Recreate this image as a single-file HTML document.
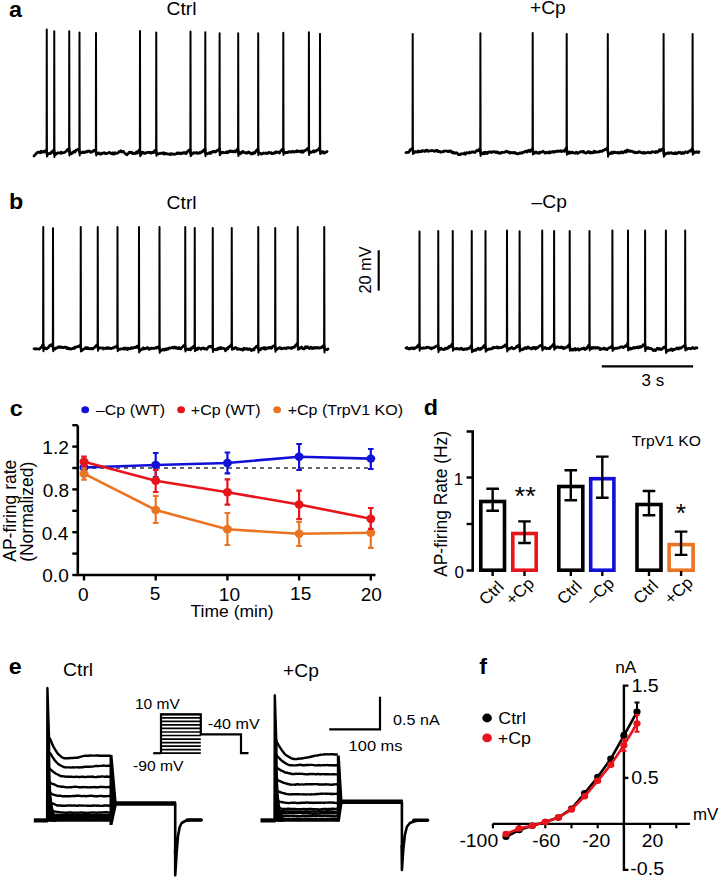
<!DOCTYPE html>
<html><head><meta charset="utf-8"><style>
html,body{margin:0;padding:0;background:#fff;}
svg{display:block;font-family:"Liberation Sans", sans-serif;}
</style></head><body>
<svg width="720" height="877" viewBox="0 0 720 877">
<rect width="720" height="877" fill="#fff"/>
<text transform="translate(15.95,11.07) scale(1.06,1) translate(-6.49,5.83)" font-size="22" font-weight="bold" fill="#000">a</text>
<text transform="translate(181.39,8.62) scale(1.06,1) translate(-14.01,6.46)" font-size="18.2" fill="#000">Ctrl</text>
<text transform="translate(547.94,9.94) scale(1.06,1) translate(-17.02,4.46)" font-size="18.2" fill="#000">+Cp</text>
<polyline points="34.0,156.0 34.5,155.5 35.0,154.7 35.5,154.4 36.0,154.0 36.5,153.2 37.0,152.9 37.5,152.2 38.0,152.4 38.5,152.2 39.0,152.1 39.5,152.1 40.0,152.8 40.5,151.9 41.0,151.1 41.5,152.4 42.0,151.9 42.5,152.1 43.0,151.9 43.5,151.3 44.0,152.1 44.5,151.6 45.0,151.2 45.5,150.8 46.0,150.4 46.5,150.7 47.0,153.9 47.5,155.0 48.0,154.0 48.5,153.9 49.0,153.6 49.5,153.4 50.0,153.2 50.5,153.5 51.0,153.1 51.5,152.0 52.0,152.5 52.5,151.4 53.0,151.2 53.5,150.1 54.0,150.1 54.5,153.9 55.0,154.6 55.5,154.5 56.0,154.2 56.5,153.5 57.0,153.7 57.5,152.8 58.0,153.1 58.5,152.9 59.0,152.8 59.5,152.9 60.0,152.9 60.5,153.3 61.0,152.3 61.5,152.1 62.0,153.1 62.5,152.9 63.0,153.0 63.5,152.6 64.0,152.6 64.5,152.3 65.0,152.2 65.5,151.6 66.0,151.3 66.5,151.2 67.0,149.9 67.5,149.8 68.0,149.3 68.5,149.0 69.0,148.4 69.5,151.7 70.0,153.0 70.5,153.7 71.0,153.8 71.5,153.8 72.0,152.7 72.5,153.1 73.0,152.5 73.5,151.7 74.0,151.9 74.5,151.2 75.0,152.1 75.5,151.3 76.0,150.2 76.5,150.2 77.0,149.7 77.5,149.6 78.0,149.4 78.5,149.5 79.0,149.1 79.5,152.1 80.0,153.1 80.5,153.2 81.0,152.5 81.5,152.7 82.0,152.7 82.5,152.3 83.0,151.9 83.5,151.8 84.0,152.6 84.5,152.7 85.0,152.4 85.5,152.0 86.0,151.6 86.5,151.8 87.0,151.3 87.5,151.9 88.0,151.4 88.5,151.1 89.0,150.9 89.5,151.2 90.0,151.5 90.5,152.4 91.0,152.1 91.5,151.8 92.0,152.1 92.5,151.2 93.0,151.2 93.5,150.5 94.0,150.3 94.5,150.4 95.0,150.4 95.5,149.9 96.0,153.1 96.5,153.0 97.0,154.1 97.5,153.3 98.0,153.1 98.5,153.5 99.0,152.9 99.5,153.3 100.0,154.2 100.5,154.0 101.0,154.1 101.5,154.0 102.0,153.0 102.5,153.1 103.0,152.9 103.5,153.2 104.0,152.9 104.5,152.6 105.0,153.6 105.5,153.4 106.0,153.5 106.5,153.6 107.0,153.5 107.5,153.0 108.0,153.1 108.5,152.5 109.0,152.5 109.5,152.4 110.0,152.8 110.5,153.2 111.0,153.2 111.5,153.9 112.0,153.4 112.5,152.9 113.0,152.8 113.5,154.2 114.0,154.2 114.5,153.5 115.0,152.7 115.5,153.5 116.0,153.5 116.5,153.3 117.0,153.3 117.5,152.8 118.0,153.0 118.5,152.5 119.0,151.7 119.5,151.7 120.0,151.1 120.5,151.3 121.0,150.7 121.5,152.1 122.0,151.6 122.5,151.7 123.0,151.3 123.5,151.4 124.0,152.3 124.5,152.9 125.0,153.5 125.5,153.7 126.0,154.2 126.5,154.1 127.0,154.9 127.5,153.9 128.0,154.0 128.5,153.4 129.0,152.4 129.5,152.0 130.0,152.0 130.5,152.6 131.0,152.7 131.5,152.3 132.0,153.3 132.5,152.8 133.0,153.0 133.5,153.6 134.0,153.4 134.5,153.2 135.0,153.4 135.5,153.6 136.0,153.0 136.5,151.9 137.0,152.8 137.5,153.0 138.0,151.4 138.5,151.7 139.0,150.1 139.5,150.3 140.0,152.6 140.5,153.7 141.0,154.6 141.5,152.9 142.0,152.2 142.5,152.8 143.0,152.2 143.5,153.0 144.0,152.8 144.5,153.5 145.0,153.0 145.5,152.7 146.0,153.1 146.5,152.9 147.0,152.6 147.5,152.4 148.0,152.3 148.5,152.3 149.0,152.3 149.5,152.5 150.0,152.9 150.5,152.3 151.0,153.1 151.5,153.0 152.0,152.8 152.5,152.2 153.0,152.6 153.5,152.7 154.0,152.4 154.5,151.0 155.0,150.3 155.5,150.6 156.0,150.2 156.5,153.5 157.0,153.3 157.5,154.0 158.0,154.2 158.5,153.9 159.0,153.8 159.5,153.6 160.0,153.1 160.5,153.1 161.0,153.6 161.5,153.0 162.0,153.0 162.5,153.5 163.0,152.9 163.5,152.7 164.0,153.0 164.5,154.1 165.0,153.5 165.5,153.5 166.0,153.3 166.5,153.9 167.0,153.7 167.5,153.8 168.0,154.1 168.5,154.0 169.0,154.0 169.5,154.3 170.0,153.8 170.5,154.6 171.0,153.9 171.5,153.9 172.0,153.7 172.5,154.2 173.0,153.9 173.5,154.4 174.0,154.4 174.5,154.0 175.0,154.1 175.5,154.1 176.0,153.7 176.5,153.6 177.0,152.8 177.5,153.5 178.0,153.7 178.5,152.9 179.0,153.1 179.5,152.8 180.0,153.1 180.5,153.9 181.0,153.1 181.5,153.3 182.0,153.6 182.5,152.8 183.0,153.0 183.5,152.7 184.0,153.0 184.5,152.4 185.0,153.0 185.5,153.3 186.0,153.6 186.5,153.3 187.0,152.2 187.5,151.3 188.0,151.4 188.5,150.5 189.0,151.0 189.5,150.8 190.0,149.5 190.5,153.7 191.0,153.7 191.5,154.6 192.0,153.7 192.5,153.5 193.0,153.5 193.5,152.7 194.0,153.3 194.5,152.7 195.0,152.9 195.5,152.8 196.0,152.8 196.5,152.5 197.0,153.3 197.5,153.3 198.0,153.0 198.5,153.3 199.0,153.2 199.5,152.4 200.0,152.6 200.5,153.0 201.0,152.6 201.5,151.7 202.0,152.0 202.5,151.6 203.0,151.2 203.5,150.3 204.0,149.7 204.5,149.4 205.0,149.1 205.5,153.5 206.0,153.8 206.5,154.0 207.0,153.9 207.5,153.7 208.0,153.3 208.5,153.4 209.0,152.9 209.5,152.6 210.0,153.5 210.5,152.3 211.0,153.2 211.5,152.5 212.0,152.3 212.5,151.4 213.0,151.4 213.5,151.7 214.0,151.9 214.5,151.1 215.0,152.0 215.5,151.5 216.0,151.7 216.5,151.0 217.0,150.6 217.5,150.2 218.0,150.1 218.5,149.6 219.0,149.3 219.5,148.4 220.0,152.8 220.5,153.8 221.0,152.8 221.5,152.7 222.0,152.5 222.5,152.1 223.0,152.6 223.5,152.3 224.0,152.9 224.5,152.8 225.0,152.7 225.5,152.6 226.0,152.0 226.5,151.9 227.0,152.8 227.5,152.5 228.0,152.4 228.5,151.5 229.0,152.2 229.5,151.9 230.0,151.5 230.5,150.6 231.0,151.4 231.5,151.6 232.0,151.6 232.5,151.8 233.0,151.1 233.5,151.5 234.0,151.9 234.5,151.8 235.0,151.0 235.5,151.9 236.0,150.7 236.5,150.7 237.0,150.1 237.5,148.9 238.0,149.5 238.5,153.5 239.0,153.9 239.5,153.9 240.0,154.0 240.5,152.6 241.0,152.4 241.5,152.8 242.0,152.9 242.5,151.5 243.0,152.1 243.5,151.6 244.0,152.3 244.5,152.5 245.0,152.7 245.5,152.5 246.0,153.1 246.5,152.9 247.0,153.1 247.5,152.5 248.0,152.8 248.5,151.9 249.0,152.3 249.5,152.5 250.0,153.1 250.5,152.8 251.0,153.4 251.5,154.1 252.0,153.9 252.5,153.1 253.0,152.6 253.5,153.7 254.0,152.7 254.5,152.7 255.0,152.9 255.5,151.5 256.0,151.2 256.5,150.4 257.0,149.5 257.5,149.6 258.0,149.4 258.5,152.7 259.0,153.2 259.5,153.2 260.0,153.0 260.5,153.4 261.0,154.0 261.5,154.2 262.0,153.7 262.5,153.7 263.0,153.3 263.5,152.9 264.0,153.5 264.5,153.4 265.0,153.2 265.5,153.2 266.0,152.8 266.5,153.2 267.0,153.6 267.5,153.2 268.0,152.9 268.5,152.5 269.0,152.8 269.5,152.5 270.0,152.9 270.5,152.7 271.0,152.6 271.5,153.5 272.0,153.2 272.5,153.6 273.0,153.6 273.5,152.8 274.0,153.3 274.5,153.2 275.0,152.4 275.5,151.9 276.0,152.9 276.5,152.0 277.0,151.8 277.5,152.1 278.0,152.3 278.5,152.4 279.0,152.8 279.5,153.1 280.0,151.6 280.5,151.4 281.0,150.6 281.5,150.1 282.0,149.5 282.5,150.0 283.0,148.9 283.5,152.2 284.0,152.5 284.5,152.7 285.0,152.9 285.5,152.5 286.0,152.3 286.5,152.8 287.0,152.1 287.5,152.5 288.0,152.6 288.5,152.0 289.0,151.7 289.5,151.9 290.0,152.0 290.5,151.7 291.0,152.2 291.5,152.1 292.0,152.1 292.5,151.1 293.0,151.8 293.5,151.7 294.0,152.1 294.5,151.7 295.0,151.8 295.5,151.4 296.0,151.8 296.5,151.0 297.0,150.7 297.5,151.7 298.0,151.4 298.5,151.1 299.0,151.1 299.5,151.6 300.0,151.2 300.5,151.8 301.0,151.1 301.5,152.0 302.0,150.9 302.5,150.9 303.0,152.3 303.5,151.7 304.0,151.4 304.5,150.6 305.0,150.7 305.5,150.3 306.0,150.0 306.5,149.3 307.0,149.3 307.5,148.5 308.0,148.3 308.5,149.0 309.0,151.8 309.5,152.6 310.0,152.6 310.5,152.0 311.0,152.4 311.5,152.5 312.0,151.9 312.5,151.6 313.0,151.0 313.5,150.8 314.0,152.0 314.5,151.0 315.0,151.4 315.5,151.5 316.0,150.6 316.5,150.8 317.0,150.0 317.5,150.0 318.0,149.6 318.5,149.5 319.0,148.5 319.5,147.9 320.0,151.0 320.5,151.6 321.0,153.1 321.5,152.1 322.0,151.6 322.5,152.2 323.0,151.6 323.5,152.0 324.0,153.1 324.5,152.8 325.0,152.8 325.5,152.2 326.0,152.0 326.5,152.0 327.0,151.5" fill="none" stroke="#000" stroke-width="2.7" stroke-linejoin="round" stroke-linecap="round"/>
<path d="M46.60,150.39 L46.75,29.5 L46.95,156.40 M54.10,150.11 L54.25,31.2 L54.45,157.07 M69.10,148.42 L69.25,31.2 L69.45,155.54 M79.35,149.05 L79.50,32.5 L79.70,155.57 M95.85,149.86 L96.00,33 L96.20,155.45 M139.85,150.26 L140.00,31 L140.20,156.25 M156.10,150.21 L156.25,32.5 L156.45,155.84 M190.35,149.55 L190.50,31.5 L190.70,156.19 M205.15,149.08 L205.30,32.2 L205.50,156.30 M219.45,149.33 L219.60,33.3 L219.80,155.34 M238.05,148.91 L238.20,33.3 L238.40,155.95 M258.05,149.59 L258.20,33.3 L258.40,155.17 M283.15,148.93 L283.30,32.7 L283.50,154.99 M308.75,149.02 L308.90,32.2 L309.10,155.08 M319.85,147.87 L320.00,33.8 L320.20,154.08" fill="none" stroke="#000" stroke-width="2.0" stroke-linejoin="round" stroke-linecap="round"/>
<polyline points="406.0,152.7 406.5,152.3 407.0,152.3 407.5,152.4 408.0,152.3 408.5,152.4 409.0,151.7 409.5,151.3 410.0,149.9 410.5,149.8 411.0,149.4 411.5,149.2 412.0,148.7 412.5,148.2 413.0,151.6 413.5,151.9 414.0,152.9 414.5,152.6 415.0,151.6 415.5,151.5 416.0,151.9 416.5,152.0 417.0,152.1 417.5,151.6 418.0,151.0 418.5,152.1 419.0,151.2 419.5,151.1 420.0,151.6 420.5,151.5 421.0,151.2 421.5,151.6 422.0,150.6 422.5,150.7 423.0,150.6 423.5,151.0 424.0,151.2 424.5,150.9 425.0,151.5 425.5,150.3 426.0,151.0 426.5,150.6 427.0,150.0 427.5,151.0 428.0,150.8 428.5,151.4 429.0,151.1 429.5,150.8 430.0,150.9 430.5,150.8 431.0,150.5 431.5,150.8 432.0,150.6 432.5,150.6 433.0,150.6 433.5,150.7 434.0,151.2 434.5,151.4 435.0,151.1 435.5,150.7 436.0,150.5 436.5,150.2 437.0,150.4 437.5,151.5 438.0,150.9 438.5,151.0 439.0,151.6 439.5,151.5 440.0,151.4 440.5,152.2 441.0,152.1 441.5,152.1 442.0,151.9 442.5,151.6 443.0,151.7 443.5,151.2 444.0,151.0 444.5,151.3 445.0,151.0 445.5,151.0 446.0,151.0 446.5,150.9 447.0,151.3 447.5,151.3 448.0,151.6 448.5,151.2 449.0,151.5 449.5,150.8 450.0,151.0 450.5,151.0 451.0,151.1 451.5,152.3 452.0,151.7 452.5,152.7 453.0,152.9 453.5,153.1 454.0,152.4 454.5,153.3 455.0,153.1 455.5,153.1 456.0,152.7 456.5,152.9 457.0,152.8 457.5,153.5 458.0,154.2 458.5,154.6 459.0,154.6 459.5,154.6 460.0,154.6 460.5,153.9 461.0,154.2 461.5,154.0 462.0,153.6 462.5,153.7 463.0,153.8 463.5,153.7 464.0,153.9 464.5,153.0 465.0,153.5 465.5,154.2 466.0,153.4 466.5,152.6 467.0,152.7 467.5,152.8 468.0,152.9 468.5,153.0 469.0,153.1 469.5,152.1 470.0,152.9 470.5,152.6 471.0,152.4 471.5,152.2 472.0,151.7 472.5,152.2 473.0,152.1 473.5,151.7 474.0,152.2 474.5,152.5 475.0,152.5 475.5,151.7 476.0,151.5 476.5,150.8 477.0,150.3 477.5,150.9 478.0,150.8 478.5,150.6 479.0,149.9 479.5,149.0 480.0,149.3 480.5,152.2 481.0,153.6 481.5,152.9 482.0,153.6 482.5,153.2 483.0,153.7 483.5,153.9 484.0,152.3 484.5,152.8 485.0,153.6 485.5,152.2 486.0,153.2 486.5,152.6 487.0,152.4 487.5,153.5 488.0,152.5 488.5,152.2 489.0,152.1 489.5,151.6 490.0,152.1 490.5,152.3 491.0,152.0 491.5,152.5 492.0,151.9 492.5,152.1 493.0,151.9 493.5,151.4 494.0,151.9 494.5,151.8 495.0,152.3 495.5,152.4 496.0,151.8 496.5,152.4 497.0,152.0 497.5,152.8 498.0,152.3 498.5,152.9 499.0,153.2 499.5,153.3 500.0,152.7 500.5,152.9 501.0,153.2 501.5,152.8 502.0,152.1 502.5,152.5 503.0,152.4 503.5,152.5 504.0,152.5 504.5,152.3 505.0,151.8 505.5,151.9 506.0,151.5 506.5,151.1 507.0,151.7 507.5,151.7 508.0,152.2 508.5,151.9 509.0,152.5 509.5,152.1 510.0,153.2 510.5,152.6 511.0,152.9 511.5,152.4 512.0,152.4 512.5,152.9 513.0,152.5 513.5,152.6 514.0,153.0 514.5,152.4 515.0,152.8 515.5,153.1 516.0,152.9 516.5,153.7 517.0,153.8 517.5,153.9 518.0,153.5 518.5,153.9 519.0,153.4 519.5,153.3 520.0,152.9 520.5,152.8 521.0,153.3 521.5,153.2 522.0,153.1 522.5,152.1 523.0,152.4 523.5,152.3 524.0,152.4 524.5,152.0 525.0,151.3 525.5,151.2 526.0,151.1 526.5,151.3 527.0,152.1 527.5,151.7 528.0,150.8 528.5,150.3 529.0,150.9 529.5,150.7 530.0,151.5 530.5,150.1 531.0,150.5 531.5,149.5 532.0,149.4 532.5,148.6 533.0,152.1 533.5,152.3 534.0,153.6 534.5,153.1 535.0,152.6 535.5,152.0 536.0,151.9 536.5,152.7 537.0,152.4 537.5,153.1 538.0,153.0 538.5,152.6 539.0,153.3 539.5,152.1 540.0,152.9 540.5,152.8 541.0,152.3 541.5,152.2 542.0,151.9 542.5,151.8 543.0,151.3 543.5,151.9 544.0,151.8 544.5,152.6 545.0,153.2 545.5,152.4 546.0,152.6 546.5,152.1 547.0,152.9 547.5,152.7 548.0,152.5 548.5,152.9 549.0,152.2 549.5,151.7 550.0,152.9 550.5,152.7 551.0,151.8 551.5,152.1 552.0,151.8 552.5,152.2 553.0,151.8 553.5,151.3 554.0,151.7 554.5,152.3 555.0,151.6 555.5,151.4 556.0,151.4 556.5,151.3 557.0,151.6 557.5,150.8 558.0,151.4 558.5,151.0 559.0,151.2 559.5,151.3 560.0,151.0 560.5,150.7 561.0,150.9 561.5,151.6 562.0,150.9 562.5,151.0 563.0,151.2 563.5,150.8 564.0,151.3 564.5,151.4 565.0,149.8 565.5,149.6 566.0,148.4 566.5,147.7 567.0,152.2 567.5,152.9 568.0,153.0 568.5,152.3 569.0,153.4 569.5,152.0 570.0,152.6 570.5,152.8 571.0,153.0 571.5,152.2 572.0,152.5 572.5,152.1 573.0,152.9 573.5,152.9 574.0,152.9 574.5,153.2 575.0,153.3 575.5,152.8 576.0,152.2 576.5,152.1 577.0,152.4 577.5,153.5 578.0,152.8 578.5,152.9 579.0,152.4 579.5,152.2 580.0,152.3 580.5,151.6 581.0,151.5 581.5,151.6 582.0,151.9 582.5,152.2 583.0,151.4 583.5,151.3 584.0,151.9 584.5,152.6 585.0,152.8 585.5,153.1 586.0,153.0 586.5,153.1 587.0,152.6 587.5,151.9 588.0,152.2 588.5,151.5 589.0,152.4 589.5,153.0 590.0,152.1 590.5,152.0 591.0,152.9 591.5,152.4 592.0,152.8 592.5,152.8 593.0,152.3 593.5,152.5 594.0,151.1 594.5,151.2 595.0,152.0 595.5,152.4 596.0,151.9 596.5,151.8 597.0,152.1 597.5,152.2 598.0,151.8 598.5,152.0 599.0,151.4 599.5,151.9 600.0,151.3 600.5,151.1 601.0,151.5 601.5,151.5 602.0,151.4 602.5,150.7 603.0,150.3 603.5,150.4 604.0,150.2 604.5,149.7 605.0,149.3 605.5,149.6 606.0,149.5 606.5,148.6 607.0,148.1 607.5,148.6 608.0,152.3 608.5,154.2 609.0,154.3 609.5,153.8 610.0,153.4 610.5,153.7 611.0,153.3 611.5,152.2 612.0,152.5 612.5,153.3 613.0,152.9 613.5,152.3 614.0,151.9 614.5,152.7 615.0,152.3 615.5,152.4 616.0,152.8 616.5,152.6 617.0,152.6 617.5,152.7 618.0,152.4 618.5,153.2 619.0,152.5 619.5,152.9 620.0,153.1 620.5,152.7 621.0,151.8 621.5,151.9 622.0,151.9 622.5,152.8 623.0,152.9 623.5,152.6 624.0,152.1 624.5,151.8 625.0,151.0 625.5,150.8 626.0,152.2 626.5,151.4 627.0,151.6 627.5,150.0 628.0,150.4 628.5,151.1 629.0,151.1 629.5,151.4 630.0,150.8 630.5,151.3 631.0,151.4 631.5,151.5 632.0,151.1 632.5,151.4 633.0,151.9 633.5,152.0 634.0,152.6 634.5,152.6 635.0,152.0 635.5,152.9 636.0,152.8 636.5,152.5 637.0,152.7 637.5,152.6 638.0,151.9 638.5,152.4 639.0,152.3 639.5,151.7 640.0,152.0 640.5,152.3 641.0,152.2 641.5,152.6 642.0,153.1 642.5,152.7 643.0,152.6 643.5,153.0 644.0,152.3 644.5,153.2 645.0,153.3 645.5,152.8 646.0,152.7 646.5,152.9 647.0,152.8 647.5,152.4 648.0,152.2 648.5,152.3 649.0,152.8 649.5,152.9 650.0,153.0 650.5,152.4 651.0,152.8 651.5,151.9 652.0,151.6 652.5,151.7 653.0,151.9 653.5,151.9 654.0,152.0 654.5,152.1 655.0,152.6 655.5,152.5 656.0,151.4 656.5,151.8 657.0,151.7 657.5,152.3 658.0,151.9 658.5,151.4 659.0,150.5 659.5,149.8 660.0,150.9 660.5,150.5 661.0,149.8 661.5,150.3 662.0,149.4 662.5,149.0 663.0,149.8 663.5,150.0 664.0,154.2 664.5,155.0 665.0,154.7 665.5,153.6 666.0,153.9 666.5,153.6 667.0,153.1 667.5,152.8 668.0,153.4 668.5,153.5 669.0,152.8 669.5,153.4 670.0,153.0 670.5,152.9 671.0,153.0 671.5,152.7 672.0,153.3 672.5,153.3 673.0,153.3 673.5,153.7 674.0,153.4 674.5,153.7 675.0,152.7 675.5,152.8 676.0,153.1 676.5,153.8 677.0,153.3 677.5,152.7 678.0,152.9 678.5,152.3 679.0,152.6 679.5,152.8 680.0,152.3 680.5,153.1 681.0,152.8 681.5,153.6 682.0,152.9 682.5,152.4 683.0,152.6 683.5,153.0 684.0,153.3 684.5,152.7 685.0,152.4 685.5,151.6 686.0,152.2 686.5,152.1 687.0,152.4 687.5,152.8 688.0,152.3 688.5,151.4 689.0,151.2 689.5,151.1 690.0,150.7 690.5,151.1 691.0,149.8 691.5,150.0 692.0,149.0 692.5,149.2 693.0,152.3 693.5,153.3 694.0,152.8 694.5,152.0 695.0,152.3 695.5,152.5 696.0,152.3 696.5,151.6 697.0,152.0 697.5,152.3 698.0,152.2 698.5,152.5 699.0,151.8" fill="none" stroke="#000" stroke-width="2.7" stroke-linejoin="round" stroke-linecap="round"/>
<path d="M412.55,148.71 L412.70,34 L412.90,154.11 M480.25,149.25 L480.40,33.3 L480.60,156.05 M532.55,149.45 L532.70,32.9 L532.90,154.55 M566.55,148.35 L566.70,34 L566.90,154.73 M607.65,148.64 L607.80,34 L608.00,156.69 M663.45,149.79 L663.60,34 L663.80,156.74 M692.45,149.00 L692.60,34 L692.80,154.79" fill="none" stroke="#000" stroke-width="2.0" stroke-linejoin="round" stroke-linecap="round"/>
<text transform="translate(16.50,201.44) scale(1.06,1) translate(-7.04,7.81)" font-size="22" font-weight="bold" fill="#000">b</text>
<text transform="translate(181.44,202.16) scale(1.06,1) translate(-14.01,6.46)" font-size="18.2" fill="#000">Ctrl</text>
<text transform="translate(548.84,203.23) scale(1.06,1) translate(-16.29,4.46)" font-size="18.2" fill="#000">–Cp</text>
<polyline points="34.0,348.8 34.5,348.7 35.0,348.5 35.5,349.1 36.0,348.8 36.5,348.7 37.0,349.0 37.5,349.0 38.0,349.0 38.5,349.0 39.0,349.2 39.5,348.5 40.0,348.6 40.5,348.0 41.0,347.4 41.5,347.0 42.0,346.4 42.5,345.3 43.0,344.5 43.5,347.7 44.0,348.8 44.5,348.7 45.0,348.6 45.5,347.9 46.0,348.3 46.5,348.9 47.0,348.5 47.5,348.0 48.0,347.9 48.5,346.8 49.0,346.8 49.5,345.7 50.0,345.2 50.5,345.7 51.0,344.8 51.5,344.8 52.0,344.5 52.5,344.4 53.0,347.1 53.5,348.8 54.0,349.3 54.5,349.2 55.0,349.1 55.5,348.7 56.0,347.8 56.5,348.1 57.0,348.0 57.5,347.9 58.0,347.0 58.5,347.4 59.0,347.2 59.5,346.8 60.0,347.5 60.5,346.9 61.0,346.9 61.5,347.2 62.0,347.6 62.5,347.2 63.0,347.4 63.5,347.7 64.0,347.4 64.5,347.5 65.0,347.0 65.5,347.5 66.0,347.4 66.5,347.5 67.0,348.7 67.5,347.7 68.0,348.1 68.5,348.3 69.0,348.9 69.5,348.7 70.0,348.5 70.5,348.6 71.0,349.2 71.5,348.9 72.0,348.6 72.5,348.6 73.0,348.0 73.5,348.5 74.0,348.6 74.5,348.5 75.0,347.1 75.5,347.0 76.0,347.2 76.5,347.2 77.0,346.6 77.5,346.7 78.0,346.8 78.5,346.6 79.0,345.8 79.5,345.7 80.0,345.8 80.5,345.6 81.0,348.9 81.5,350.3 82.0,350.5 82.5,349.6 83.0,349.6 83.5,349.4 84.0,348.9 84.5,348.7 85.0,348.7 85.5,347.6 86.0,347.9 86.5,348.5 87.0,347.6 87.5,348.5 88.0,347.8 88.5,348.3 89.0,348.9 89.5,348.9 90.0,348.7 90.5,348.7 91.0,348.2 91.5,348.3 92.0,348.8 92.5,349.1 93.0,348.7 93.5,348.2 94.0,347.8 94.5,347.4 95.0,347.2 95.5,346.3 96.0,345.9 96.5,345.2 97.0,345.8 97.5,344.8 98.0,348.3 98.5,347.5 99.0,348.5 99.5,348.1 100.0,347.9 100.5,347.8 101.0,347.8 101.5,348.1 102.0,347.9 102.5,348.2 103.0,347.9 103.5,349.1 104.0,348.5 104.5,348.5 105.0,348.5 105.5,348.0 106.0,347.8 106.5,348.0 107.0,348.6 107.5,347.6 108.0,347.8 108.5,348.4 109.0,347.8 109.5,348.0 110.0,348.5 110.5,348.3 111.0,348.7 111.5,348.5 112.0,348.0 112.5,348.2 113.0,347.5 113.5,347.6 114.0,347.8 114.5,347.4 115.0,347.0 115.5,346.7 116.0,346.7 116.5,346.3 117.0,346.0 117.5,348.1 118.0,348.7 118.5,349.6 119.0,349.4 119.5,349.2 120.0,349.4 120.5,349.0 121.0,348.8 121.5,348.8 122.0,349.0 122.5,348.6 123.0,348.6 123.5,349.1 124.0,348.1 124.5,349.1 125.0,348.0 125.5,347.9 126.0,348.7 126.5,348.8 127.0,349.6 127.5,349.6 128.0,348.1 128.5,348.9 129.0,348.7 129.5,348.7 130.0,348.3 130.5,348.7 131.0,347.9 131.5,347.5 132.0,348.3 132.5,348.1 133.0,348.2 133.5,348.1 134.0,347.6 134.5,347.1 135.0,347.4 135.5,347.6 136.0,347.4 136.5,346.7 137.0,347.4 137.5,346.1 138.0,346.8 138.5,345.7 139.0,348.8 139.5,350.0 140.0,350.6 140.5,350.2 141.0,349.9 141.5,349.6 142.0,349.0 142.5,348.7 143.0,347.8 143.5,349.0 144.0,348.3 144.5,348.8 145.0,348.5 145.5,348.3 146.0,348.6 146.5,348.1 147.0,347.8 147.5,347.4 148.0,348.6 148.5,348.6 149.0,349.4 149.5,349.2 150.0,348.4 150.5,348.6 151.0,348.5 151.5,347.9 152.0,348.1 152.5,348.5 153.0,348.5 153.5,348.5 154.0,348.2 154.5,348.5 155.0,348.2 155.5,347.9 156.0,347.4 156.5,348.1 157.0,347.2 157.5,347.1 158.0,347.3 158.5,346.8 159.0,346.6 159.5,349.2 160.0,350.2 160.5,351.1 161.0,350.3 161.5,350.5 162.0,349.9 162.5,349.5 163.0,349.9 163.5,349.3 164.0,349.8 164.5,350.1 165.0,349.7 165.5,348.8 166.0,348.9 166.5,349.7 167.0,348.6 167.5,349.0 168.0,349.2 168.5,348.7 169.0,348.3 169.5,347.8 170.0,348.1 170.5,348.1 171.0,347.8 171.5,348.0 172.0,347.6 172.5,347.5 173.0,347.2 173.5,348.1 174.0,347.3 174.5,347.1 175.0,347.3 175.5,348.2 176.0,347.2 176.5,347.6 177.0,348.4 177.5,348.3 178.0,348.8 178.5,347.9 179.0,347.4 179.5,348.3 180.0,348.8 180.5,348.9 181.0,348.7 181.5,347.7 182.0,347.2 182.5,347.0 183.0,346.4 183.5,345.7 184.0,346.2 184.5,345.3 185.0,345.9 185.5,349.4 186.0,349.1 186.5,349.6 187.0,349.5 187.5,349.1 188.0,349.3 188.5,348.9 189.0,349.6 189.5,349.3 190.0,348.9 190.5,349.9 191.0,349.2 191.5,347.8 192.0,348.3 192.5,348.1 193.0,346.7 193.5,346.5 194.0,346.1 194.5,345.6 195.0,348.8 195.5,349.0 196.0,349.9 196.5,348.5 197.0,349.0 197.5,349.5 198.0,348.0 198.5,347.8 199.0,348.3 199.5,348.2 200.0,348.4 200.5,348.6 201.0,349.4 201.5,348.5 202.0,348.2 202.5,348.4 203.0,348.2 203.5,347.9 204.0,348.6 204.5,349.1 205.0,348.8 205.5,349.0 206.0,348.9 206.5,348.6 207.0,349.3 207.5,348.1 208.0,347.7 208.5,346.9 209.0,346.6 209.5,346.4 210.0,346.4 210.5,346.2 211.0,347.0 211.5,346.7 212.0,346.7 212.5,346.0 213.0,349.4 213.5,349.3 214.0,349.3 214.5,349.7 215.0,349.7 215.5,349.8 216.0,349.3 216.5,349.8 217.0,349.7 217.5,348.4 218.0,348.2 218.5,349.1 219.0,348.1 219.5,348.4 220.0,348.4 220.5,347.5 221.0,348.7 221.5,348.2 222.0,348.1 222.5,348.1 223.0,348.4 223.5,348.1 224.0,348.8 224.5,348.9 225.0,349.4 225.5,350.9 226.0,349.0 226.5,349.5 227.0,348.4 227.5,347.9 228.0,348.8 228.5,347.1 229.0,346.8 229.5,346.6 230.0,346.5 230.5,345.6 231.0,345.9 231.5,344.5 232.0,347.4 232.5,348.2 233.0,348.9 233.5,348.8 234.0,348.8 234.5,348.0 235.0,347.9 235.5,347.3 236.0,347.6 236.5,348.3 237.0,348.3 237.5,349.4 238.0,349.1 238.5,348.7 239.0,348.8 239.5,349.2 240.0,349.0 240.5,349.4 241.0,349.0 241.5,349.0 242.0,349.2 242.5,350.1 243.0,349.4 243.5,349.8 244.0,348.2 244.5,348.6 245.0,348.7 245.5,349.0 246.0,348.5 246.5,348.4 247.0,348.7 247.5,349.4 248.0,349.7 248.5,349.1 249.0,349.3 249.5,348.7 250.0,349.0 250.5,349.0 251.0,349.9 251.5,350.6 252.0,349.8 252.5,350.0 253.0,349.2 253.5,349.1 254.0,349.8 254.5,348.2 255.0,347.9 255.5,347.4 256.0,347.2 256.5,346.2 257.0,346.4 257.5,346.0 258.0,347.0 258.5,349.2 259.0,350.1 259.5,349.4 260.0,349.3 260.5,349.7 261.0,349.0 261.5,348.1 262.0,348.4 262.5,348.5 263.0,348.1 263.5,347.9 264.0,347.5 264.5,349.1 265.0,348.7 265.5,347.7 266.0,349.1 266.5,348.2 267.0,348.3 267.5,348.0 268.0,348.1 268.5,347.5 269.0,348.2 269.5,347.6 270.0,347.3 270.5,347.5 271.0,348.3 271.5,347.7 272.0,347.8 272.5,346.6 273.0,346.2 273.5,346.0 274.0,345.7 274.5,345.8 275.0,345.7 275.5,348.7 276.0,349.2 276.5,349.6 277.0,349.4 277.5,348.8 278.0,348.6 278.5,348.1 279.0,348.0 279.5,347.6 280.0,347.6 280.5,348.5 281.0,347.9 281.5,348.9 282.0,348.5 282.5,348.7 283.0,348.6 283.5,348.4 284.0,348.1 284.5,347.9 285.0,348.2 285.5,348.3 286.0,348.8 286.5,348.3 287.0,347.6 287.5,348.0 288.0,347.9 288.5,348.0 289.0,347.7 289.5,347.8 290.0,347.7 290.5,348.1 291.0,348.5 291.5,347.8 292.0,348.3 292.5,347.4 293.0,347.5 293.5,347.5 294.0,347.1 294.5,347.2 295.0,345.9 295.5,345.5 296.0,345.1 296.5,344.5 297.0,343.6 297.5,344.1 298.0,347.3 298.5,347.5 299.0,348.6 299.5,348.9 300.0,347.9 300.5,347.7 301.0,347.8 301.5,347.0 302.0,347.4 302.5,348.2 303.0,348.8 303.5,348.9 304.0,348.6 304.5,348.8 305.0,347.5 305.5,346.8 306.0,347.3 306.5,347.6 307.0,347.7 307.5,346.7 308.0,347.8 308.5,347.6 309.0,347.9 309.5,348.6 310.0,347.4 310.5,347.2 311.0,347.2 311.5,347.7 312.0,348.5 312.5,348.1 313.0,348.4 313.5,347.7 314.0,348.2 314.5,348.2 315.0,347.5 315.5,348.2 316.0,347.9 316.5,347.6 317.0,348.0 317.5,347.5 318.0,347.9 318.5,347.7 319.0,348.1 319.5,347.7 320.0,348.1 320.5,347.6 321.0,347.4 321.5,347.7 322.0,346.9 322.5,346.4 323.0,345.8 323.5,345.9 324.0,345.1 324.5,348.4 325.0,349.9 325.5,349.4 326.0,349.4 326.5,349.6 327.0,349.8 327.5,349.3 328.0,349.0" fill="none" stroke="#000" stroke-width="2.7" stroke-linejoin="round" stroke-linecap="round"/>
<path d="M43.10,344.49 L43.25,227 L43.45,351.26 M52.85,344.45 L53.00,228.2 L53.20,351.26 M80.60,345.76 L80.75,227 L80.95,351.45 M97.60,345.78 L97.75,227 L97.95,350.78 M117.35,346.00 L117.50,227 L117.70,351.24 M138.85,345.71 L139.00,227 L139.20,352.52 M159.35,346.64 L159.50,227 L159.70,352.72 M185.10,345.88 L185.25,227 L185.45,351.58 M194.60,346.08 L194.75,228 L194.95,351.30 M212.60,346.71 L212.75,228 L212.95,351.95 M231.60,345.92 L231.75,228 L231.95,349.87 M258.10,346.98 L258.25,227 L258.45,352.55 M275.10,345.72 L275.25,228 L275.45,351.67 M297.60,343.61 L297.75,227 L297.95,349.75 M324.10,345.15 L324.25,227 L324.45,352.45" fill="none" stroke="#000" stroke-width="2.0" stroke-linejoin="round" stroke-linecap="round"/>
<polyline points="406.0,348.1 406.5,348.3 407.0,347.5 407.5,348.0 408.0,348.4 408.5,348.3 409.0,349.2 409.5,348.8 410.0,348.3 410.5,348.6 411.0,347.9 411.5,348.1 412.0,348.4 412.5,347.8 413.0,348.0 413.5,348.9 414.0,348.9 414.5,347.8 415.0,348.3 415.5,347.7 416.0,347.3 416.5,347.4 417.0,347.2 417.5,345.8 418.0,345.9 418.5,345.2 419.0,344.5 419.5,347.0 420.0,348.3 420.5,347.8 421.0,348.0 421.5,348.4 422.0,348.5 422.5,348.1 423.0,348.3 423.5,347.6 424.0,348.1 424.5,348.0 425.0,348.2 425.5,347.7 426.0,347.6 426.5,347.9 427.0,347.1 427.5,347.3 428.0,347.3 428.5,347.5 429.0,347.3 429.5,348.2 430.0,348.3 430.5,348.3 431.0,348.0 431.5,349.0 432.0,348.0 432.5,347.9 433.0,348.0 433.5,348.0 434.0,347.7 434.5,346.9 435.0,347.1 435.5,346.7 436.0,346.3 436.5,346.0 437.0,346.0 437.5,346.2 438.0,345.1 438.5,348.6 439.0,349.8 439.5,350.0 440.0,349.4 440.5,349.1 441.0,348.2 441.5,349.1 442.0,349.0 442.5,349.3 443.0,349.5 443.5,349.5 444.0,349.6 444.5,349.5 445.0,348.3 445.5,348.1 446.0,348.1 446.5,348.8 447.0,348.3 447.5,348.4 448.0,347.5 448.5,348.0 449.0,347.1 449.5,346.1 450.0,346.1 450.5,346.5 451.0,345.9 451.5,345.2 452.0,344.2 452.5,344.4 453.0,348.2 453.5,348.9 454.0,349.1 454.5,348.9 455.0,349.0 455.5,348.9 456.0,348.7 456.5,348.3 457.0,348.9 457.5,348.4 458.0,348.9 458.5,348.8 459.0,348.9 459.5,349.3 460.0,348.8 460.5,348.5 461.0,348.9 461.5,348.2 462.0,348.4 462.5,349.4 463.0,349.8 463.5,349.7 464.0,349.2 464.5,348.9 465.0,349.3 465.5,349.0 466.0,348.9 466.5,348.7 467.0,349.2 467.5,348.5 468.0,348.4 468.5,348.6 469.0,348.4 469.5,348.1 470.0,347.3 470.5,346.9 471.0,345.8 471.5,346.0 472.0,349.7 472.5,350.7 473.0,351.0 473.5,350.4 474.0,350.7 474.5,350.1 475.0,350.4 475.5,349.7 476.0,350.2 476.5,349.3 477.0,349.2 477.5,349.1 478.0,348.1 478.5,348.2 479.0,349.1 479.5,349.2 480.0,349.5 480.5,348.8 481.0,348.2 481.5,348.9 482.0,348.1 482.5,347.8 483.0,347.1 483.5,346.2 484.0,345.7 484.5,345.1 485.0,345.5 485.5,348.0 486.0,349.3 486.5,349.1 487.0,350.2 487.5,349.6 488.0,349.5 488.5,349.1 489.0,348.9 489.5,348.8 490.0,349.1 490.5,349.2 491.0,348.9 491.5,348.9 492.0,348.2 492.5,348.5 493.0,348.1 493.5,347.1 494.0,347.8 494.5,347.8 495.0,347.6 495.5,347.6 496.0,347.4 496.5,347.0 497.0,347.9 497.5,347.0 498.0,348.0 498.5,347.4 499.0,347.8 499.5,347.4 500.0,347.6 500.5,347.6 501.0,347.8 501.5,347.6 502.0,347.2 502.5,346.9 503.0,346.4 503.5,346.9 504.0,346.0 504.5,345.4 505.0,345.2 505.5,344.7 506.0,345.5 506.5,345.5 507.0,348.3 507.5,348.9 508.0,348.9 508.5,349.5 509.0,348.7 509.5,348.4 510.0,348.6 510.5,348.5 511.0,347.9 511.5,347.4 512.0,347.4 512.5,348.2 513.0,348.6 513.5,348.9 514.0,348.6 514.5,348.3 515.0,348.2 515.5,348.0 516.0,347.3 516.5,346.5 517.0,346.9 517.5,346.2 518.0,346.4 518.5,345.2 519.0,345.4 519.5,345.7 520.0,349.0 520.5,349.9 521.0,349.6 521.5,349.9 522.0,349.3 522.5,349.6 523.0,348.9 523.5,349.2 524.0,348.4 524.5,348.0 525.0,348.4 525.5,347.5 526.0,347.6 526.5,348.6 527.0,347.6 527.5,347.9 528.0,346.8 528.5,348.0 529.0,347.4 529.5,348.1 530.0,348.2 530.5,348.3 531.0,348.2 531.5,349.0 532.0,348.1 532.5,347.8 533.0,347.5 533.5,348.2 534.0,347.5 534.5,347.7 535.0,347.5 535.5,349.0 536.0,348.4 536.5,348.0 537.0,347.4 537.5,348.0 538.0,347.5 538.5,346.9 539.0,346.4 539.5,346.4 540.0,345.5 540.5,345.6 541.0,345.5 541.5,345.2 542.0,345.0 542.5,347.9 543.0,348.9 543.5,348.5 544.0,348.3 544.5,348.2 545.0,347.4 545.5,347.8 546.0,348.0 546.5,348.6 547.0,348.3 547.5,348.5 548.0,348.2 548.5,348.7 549.0,348.7 549.5,348.0 550.0,348.4 550.5,346.8 551.0,346.9 551.5,347.0 552.0,346.0 552.5,345.5 553.0,344.6 553.5,344.1 554.0,344.0 554.5,347.2 555.0,347.9 555.5,348.2 556.0,347.4 556.5,347.3 557.0,347.2 557.5,346.7 558.0,346.9 558.5,347.3 559.0,347.1 559.5,347.6 560.0,347.4 560.5,347.9 561.0,347.0 561.5,347.6 562.0,347.0 562.5,347.8 563.0,348.2 563.5,348.7 564.0,347.5 564.5,348.3 565.0,348.2 565.5,347.8 566.0,347.6 566.5,347.3 567.0,346.7 567.5,347.1 568.0,346.2 568.5,345.4 569.0,344.7 569.5,344.9 570.0,348.3 570.5,349.3 571.0,349.8 571.5,349.3 572.0,350.0 572.5,349.7 573.0,350.1 573.5,349.2 574.0,349.0 574.5,349.3 575.0,348.4 575.5,350.1 576.0,349.8 576.5,349.1 577.0,349.6 577.5,349.1 578.0,348.6 578.5,349.8 579.0,350.2 579.5,349.8 580.0,349.6 580.5,349.0 581.0,349.3 581.5,348.9 582.0,348.8 582.5,348.4 583.0,348.6 583.5,348.9 584.0,348.0 584.5,348.6 585.0,349.5 585.5,348.8 586.0,348.3 586.5,348.7 587.0,348.0 587.5,346.8 588.0,346.5 588.5,345.4 589.0,345.6 589.5,347.9 590.0,348.0 590.5,348.5 591.0,348.2 591.5,348.6 592.0,347.5 592.5,347.8 593.0,348.2 593.5,347.4 594.0,347.7 594.5,347.9 595.0,348.4 595.5,347.4 596.0,347.5 596.5,347.9 597.0,348.1 597.5,347.4 598.0,347.7 598.5,347.8 599.0,348.0 599.5,348.1 600.0,349.7 600.5,348.9 601.0,348.6 601.5,349.2 602.0,349.0 602.5,348.7 603.0,348.9 603.5,348.7 604.0,348.0 604.5,349.0 605.0,348.3 605.5,348.7 606.0,349.4 606.5,349.4 607.0,349.7 607.5,348.8 608.0,348.6 608.5,348.1 609.0,348.0 609.5,347.7 610.0,347.8 610.5,347.4 611.0,347.3 611.5,346.6 612.0,345.8 612.5,347.9 613.0,348.6 613.5,349.3 614.0,349.0 614.5,348.3 615.0,348.4 615.5,348.1 616.0,348.2 616.5,348.4 617.0,348.1 617.5,347.9 618.0,348.1 618.5,347.8 619.0,348.0 619.5,347.8 620.0,347.4 620.5,346.8 621.0,346.9 621.5,346.8 622.0,346.7 622.5,347.2 623.0,347.6 623.5,347.5 624.0,346.7 624.5,346.6 625.0,346.6 625.5,345.7 626.0,346.1 626.5,345.5 627.0,345.5 627.5,343.5 628.0,347.4 628.5,348.0 629.0,348.7 629.5,349.1 630.0,348.5 630.5,348.2 631.0,349.0 631.5,348.6 632.0,348.4 632.5,348.3 633.0,348.3 633.5,347.4 634.0,347.7 634.5,348.1 635.0,347.5 635.5,347.9 636.0,347.7 636.5,347.2 637.0,347.0 637.5,347.6 638.0,346.8 638.5,347.9 639.0,346.9 639.5,346.6 640.0,347.4 640.5,346.7 641.0,346.3 641.5,346.9 642.0,346.8 642.5,346.0 643.0,345.0 643.5,344.7 644.0,345.4 644.5,345.6 645.0,344.6 645.5,348.7 646.0,349.2 646.5,348.9 647.0,347.9 647.5,348.0 648.0,347.5 648.5,348.3 649.0,348.0 649.5,348.2 650.0,348.7 650.5,348.8 651.0,348.4 651.5,348.6 652.0,349.2 652.5,349.6 653.0,350.2 653.5,350.6 654.0,350.3 654.5,349.8 655.0,350.5 655.5,350.6 656.0,350.0 656.5,349.1 657.0,348.5 657.5,348.2 658.0,348.7 658.5,349.0 659.0,349.3 659.5,348.5 660.0,348.7 660.5,348.9 661.0,349.6 661.5,349.4 662.0,348.8 662.5,348.6 663.0,348.1 663.5,347.5 664.0,347.0 664.5,347.0 665.0,347.3 665.5,346.5 666.0,349.6 666.5,350.5 667.0,351.3 667.5,350.9 668.0,350.5 668.5,350.3 669.0,350.1 669.5,349.9 670.0,350.2 670.5,349.3 671.0,349.6 671.5,348.9 672.0,349.0 672.5,350.6 673.0,350.0 673.5,349.4 674.0,349.7 674.5,349.2 675.0,349.4 675.5,349.0 676.0,348.7 676.5,348.6 677.0,347.9 677.5,348.6 678.0,348.1 678.5,349.0 679.0,348.2 679.5,348.4 680.0,347.7 680.5,348.2 681.0,348.2 681.5,347.4 682.0,347.4 682.5,346.8 683.0,346.5 683.5,346.3 684.0,346.1 684.5,345.6 685.0,344.8 685.5,347.9 686.0,348.6 686.5,349.2 687.0,349.3 687.5,348.6 688.0,348.4 688.5,348.4 689.0,348.5 689.5,348.3 690.0,348.8 690.5,348.9 691.0,348.7 691.5,348.4 692.0,348.3 692.5,347.5 693.0,348.1 693.5,348.5 694.0,348.3 694.5,348.0 695.0,348.3 695.5,348.3 696.0,347.5 696.5,347.6 697.0,347.9" fill="none" stroke="#000" stroke-width="2.7" stroke-linejoin="round" stroke-linecap="round"/>
<path d="M419.35,344.50 L419.50,231.5 L419.70,350.81 M438.10,345.13 L438.25,231 L438.45,352.28 M452.60,344.15 L452.75,231 L452.95,350.68 M471.60,345.80 L471.75,231 L471.95,352.22 M485.35,345.46 L485.50,231 L485.70,351.76 M506.85,345.52 L507.00,230.5 L507.20,351.44 M519.45,345.41 L519.60,231.3 L519.80,351.50 M542.05,345.16 L542.20,230.5 L542.40,350.40 M553.95,344.10 L554.10,231 L554.30,349.67 M569.55,344.71 L569.70,231 L569.90,350.78 M589.35,345.56 L589.50,231 L589.70,350.47 M612.25,345.83 L612.40,230.5 L612.60,351.09 M627.85,343.51 L628.00,230.5 L628.20,350.54 M644.95,345.59 L645.10,230.5 L645.30,351.17 M665.75,346.54 L665.90,230.5 L666.10,353.05 M685.05,345.56 L685.20,230.5 L685.40,350.41" fill="none" stroke="#000" stroke-width="2.0" stroke-linejoin="round" stroke-linecap="round"/>
<line x1="378.7" y1="250.3" x2="378.7" y2="290.6" stroke="#000" stroke-width="2.2"/>
<text transform="translate(364.68,269.66) scale(1.06,1) rotate(-90) translate(-23.88,5.62)" font-size="16.3" fill="#000">20 mV</text>
<line x1="601.8" y1="366.4" x2="693.1" y2="366.4" stroke="#000" stroke-width="2.2"/>
<text transform="translate(652.83,380.51) scale(1.06,1) translate(-10.64,5.52)" font-size="16" fill="#000">3 s</text>
<text transform="translate(16.34,409.78) scale(1.06,1) translate(-6.27,5.83)" font-size="22" font-weight="bold" fill="#000">c</text>
<ellipse cx="85.2" cy="409.7" rx="3.9" ry="3.5" fill="#1010d8"/>
<text transform="translate(130.06,410.66) scale(1.06,1) translate(-32.24,3.85)" font-size="15.1" fill="#000">–Cp (WT)</text>
<ellipse cx="181.1" cy="409.7" rx="3.9" ry="3.5" fill="#e8141c"/>
<text transform="translate(225.66,410.66) scale(1.06,1) translate(-32.84,3.85)" font-size="15.1" fill="#000">+Cp (WT)</text>
<ellipse cx="277.1" cy="409.7" rx="3.9" ry="3.5" fill="#ea7422"/>
<text transform="translate(345.28,410.66) scale(1.06,1) translate(-54.36,3.85)" font-size="15.1" fill="#000">+Cp (TrpV1 KO)</text>
<polyline points="77.8,425.5 77.8,575 375.5,575" fill="none" stroke="#000" stroke-width="2.6"/>
<line x1="72.3" y1="575.00" x2="77.8" y2="575.00" stroke="#000" stroke-width="2.4"/>
<line x1="72.3" y1="553.60" x2="77.8" y2="553.60" stroke="#000" stroke-width="2.4"/>
<line x1="72.3" y1="532.20" x2="77.8" y2="532.20" stroke="#000" stroke-width="2.4"/>
<line x1="72.3" y1="510.80" x2="77.8" y2="510.80" stroke="#000" stroke-width="2.4"/>
<line x1="72.3" y1="489.40" x2="77.8" y2="489.40" stroke="#000" stroke-width="2.4"/>
<line x1="72.3" y1="468.00" x2="77.8" y2="468.00" stroke="#000" stroke-width="2.4"/>
<line x1="72.3" y1="446.60" x2="77.8" y2="446.60" stroke="#000" stroke-width="2.4"/>
<line x1="72.3" y1="425.20" x2="77.8" y2="425.20" stroke="#000" stroke-width="2.4"/>
<text transform="translate(55.92,447.28) scale(1.06,1) translate(-12.78,6.30)" font-size="18" fill="#000">1.2</text>
<text transform="translate(55.84,490.40) scale(1.06,1) translate(-12.42,6.21)" font-size="18" fill="#000">0.8</text>
<text transform="translate(55.20,533.52) scale(1.06,1) translate(-12.60,6.21)" font-size="18" fill="#000">0.4</text>
<text transform="translate(55.50,575.84) scale(1.06,1) translate(-12.51,6.21)" font-size="18" fill="#000">0.0</text>
<line x1="84.00" y1="575" x2="84.00" y2="580.5" stroke="#000" stroke-width="2.4"/>
<text transform="translate(83.39,594.35) scale(1.06,1) translate(-5.04,6.21)" font-size="18" fill="#000">0</text>
<line x1="155.70" y1="575" x2="155.70" y2="580.5" stroke="#000" stroke-width="2.4"/>
<text transform="translate(155.06,594.35) scale(1.06,1) translate(-4.95,6.12)" font-size="18" fill="#000">5</text>
<line x1="227.40" y1="575" x2="227.40" y2="580.5" stroke="#000" stroke-width="2.4"/>
<text transform="translate(229.84,594.35) scale(1.06,1) translate(-10.44,6.21)" font-size="18" fill="#000">10</text>
<line x1="299.10" y1="575" x2="299.10" y2="580.5" stroke="#000" stroke-width="2.4"/>
<text transform="translate(301.06,594.35) scale(1.06,1) translate(-10.35,6.12)" font-size="18" fill="#000">15</text>
<line x1="370.80" y1="575" x2="370.80" y2="580.5" stroke="#000" stroke-width="2.4"/>
<text transform="translate(371.44,594.35) scale(1.06,1) translate(-10.17,6.21)" font-size="18" fill="#000">20</text>
<text transform="translate(231.67,613.01) scale(1.06,1) translate(-38.77,4.21)" font-size="16.5" fill="#000">Time (min)</text>
<text transform="translate(11.35,511.10) scale(1.06,1) rotate(-90) translate(-50.66,4.46)" font-size="17.5" fill="#000">AP-firing rate</text>
<text transform="translate(28.50,511.80) scale(1.06,1) rotate(-90) translate(-50.05,4.46)" font-size="17.5" fill="#000">(Normalized)</text>
<line x1="84" y1="468.00" x2="372" y2="468.00" stroke="#666" stroke-width="2.2" stroke-dasharray="4,4"/>
<polyline points="84.0,467.5 155.7,465.0 227.4,463.0 299.1,456.7 370.8,458.6" fill="none" stroke="#1010d8" stroke-width="2.6"/>
<path d="M81.20,464 H86.80 M84.00,464 V471 M81.20,471 H86.80" stroke="#1010d8" stroke-width="2.2" fill="none"/>
<ellipse cx="84.00" cy="467.5" rx="4.5" ry="4.2" fill="#1010d8"/>
<path d="M152.90,453 H158.50 M155.70,453 V477 M152.90,477 H158.50" stroke="#1010d8" stroke-width="2.2" fill="none"/>
<ellipse cx="155.70" cy="465" rx="4.5" ry="4.2" fill="#1010d8"/>
<path d="M224.60,452.5 H230.20 M227.40,452.5 V473.3 M224.60,473.3 H230.20" stroke="#1010d8" stroke-width="2.2" fill="none"/>
<ellipse cx="227.40" cy="463" rx="4.5" ry="4.2" fill="#1010d8"/>
<path d="M296.30,444 H301.90 M299.10,444 V470 M296.30,470 H301.90" stroke="#1010d8" stroke-width="2.2" fill="none"/>
<ellipse cx="299.10" cy="456.7" rx="4.5" ry="4.2" fill="#1010d8"/>
<path d="M368.00,449 H373.60 M370.80,449 V469 M368.00,469 H373.60" stroke="#1010d8" stroke-width="2.2" fill="none"/>
<ellipse cx="370.80" cy="458.6" rx="4.5" ry="4.2" fill="#1010d8"/>
<polyline points="84.0,473.7 155.7,510.0 227.4,529.3 299.1,533.8 370.8,532.7" fill="none" stroke="#ea7422" stroke-width="2.6"/>
<path d="M81.20,468.3 H86.80 M84.00,468.3 V479.7 M81.20,479.7 H86.80" stroke="#ea7422" stroke-width="2.2" fill="none"/>
<ellipse cx="84.00" cy="473.7" rx="4.5" ry="4.2" fill="#ea7422"/>
<path d="M152.90,495.8 H158.50 M155.70,495.8 V523 M152.90,523 H158.50" stroke="#ea7422" stroke-width="2.2" fill="none"/>
<ellipse cx="155.70" cy="510" rx="4.5" ry="4.2" fill="#ea7422"/>
<path d="M224.60,513 H230.20 M227.40,513 V545 M224.60,545 H230.20" stroke="#ea7422" stroke-width="2.2" fill="none"/>
<ellipse cx="227.40" cy="529.3" rx="4.5" ry="4.2" fill="#ea7422"/>
<path d="M296.30,522 H301.90 M299.10,522 V546 M296.30,546 H301.90" stroke="#ea7422" stroke-width="2.2" fill="none"/>
<ellipse cx="299.10" cy="533.8" rx="4.5" ry="4.2" fill="#ea7422"/>
<path d="M368.00,521.4 H373.60 M370.80,521.4 V547.8 M368.00,547.8 H373.60" stroke="#ea7422" stroke-width="2.2" fill="none"/>
<ellipse cx="370.80" cy="532.7" rx="4.5" ry="4.2" fill="#ea7422"/>
<polyline points="84.0,461.7 155.7,480.8 227.4,492.2 299.1,504.5 370.8,518.8" fill="none" stroke="#e8141c" stroke-width="2.6"/>
<path d="M81.20,456.7 H86.80 M84.00,456.7 V466 M81.20,466 H86.80" stroke="#e8141c" stroke-width="2.2" fill="none"/>
<ellipse cx="84.00" cy="461.7" rx="4.5" ry="4.2" fill="#e8141c"/>
<path d="M152.90,470 H158.50 M155.70,470 V492 M152.90,492 H158.50" stroke="#e8141c" stroke-width="2.2" fill="none"/>
<ellipse cx="155.70" cy="480.8" rx="4.5" ry="4.2" fill="#e8141c"/>
<path d="M224.60,479.4 H230.20 M227.40,479.4 V504.7 M224.60,504.7 H230.20" stroke="#e8141c" stroke-width="2.2" fill="none"/>
<ellipse cx="227.40" cy="492.2" rx="4.5" ry="4.2" fill="#e8141c"/>
<path d="M296.30,490.6 H301.90 M299.10,490.6 V519.2 M296.30,519.2 H301.90" stroke="#e8141c" stroke-width="2.2" fill="none"/>
<ellipse cx="299.10" cy="504.5" rx="4.5" ry="4.2" fill="#e8141c"/>
<path d="M368.00,508 H373.60 M370.80,508 V528.9 M368.00,528.9 H373.60" stroke="#e8141c" stroke-width="2.2" fill="none"/>
<ellipse cx="370.80" cy="518.8" rx="4.5" ry="4.2" fill="#e8141c"/>
<text transform="translate(430.49,407.68) scale(1.06,1) translate(-6.38,7.81)" font-size="22" font-weight="bold" fill="#000">d</text>
<polyline points="466.6,431.5 472.7,431.5 472.7,570.5 466.6,570.5" fill="none" stroke="#000" stroke-width="2.6"/>
<line x1="466.6" y1="477.50" x2="472.7" y2="477.50" stroke="#000" stroke-width="2.4"/>
<line x1="466.6" y1="524.00" x2="472.7" y2="524.00" stroke="#000" stroke-width="2.4"/>
<text transform="translate(458.66,479.34) scale(1.06,1) translate(-4.72,5.52)" font-size="16" fill="#000">1</text>
<text transform="translate(459.16,572.51) scale(1.06,1) translate(-4.48,5.52)" font-size="16" fill="#000">0</text>
<text transform="translate(442.33,504.34) scale(1.06,1) rotate(-90) translate(-72.47,4.44)" font-size="17.4" fill="#000">AP-firing Rate (Hz)</text>
<rect x="480.80" y="501.50" width="23.70" height="68.70" fill="none" stroke="#000" stroke-width="3.6"/>
<path d="M486.35,488.7 H498.95 M492.65,488.7 V510.7 M486.35,510.7 H498.95" stroke="#000" stroke-width="2.4" fill="none"/>
<line x1="492.65" y1="571" x2="492.65" y2="576" stroke="#000" stroke-width="2.4"/>
<text transform="translate(491.00,592.85) scale(1.06,1) rotate(-45) translate(-12.55,5.79)" font-size="16.3" fill="#000">Ctrl</text>
<rect x="512.80" y="533.50" width="23.40" height="36.70" fill="none" stroke="#e8141c" stroke-width="3.6"/>
<path d="M518.20,521.4 H530.80 M524.50,521.4 V543 M518.20,543 H530.80" stroke="#000" stroke-width="2.4" fill="none"/>
<line x1="524.50" y1="571" x2="524.50" y2="576" stroke="#000" stroke-width="2.4"/>
<text transform="translate(520.90,592.35) scale(1.06,1) rotate(-45) translate(-15.24,3.99)" font-size="16.3" fill="#000">+Cp</text>
<rect x="558.80" y="486.50" width="24.00" height="83.70" fill="none" stroke="#000" stroke-width="3.6"/>
<path d="M564.50,470.2 H577.10 M570.80,470.2 V500.2 M564.50,500.2 H577.10" stroke="#000" stroke-width="2.4" fill="none"/>
<line x1="570.80" y1="571" x2="570.80" y2="576" stroke="#000" stroke-width="2.4"/>
<text transform="translate(569.00,592.30) scale(1.06,1) rotate(-45) translate(-12.55,5.79)" font-size="16.3" fill="#000">Ctrl</text>
<rect x="590.70" y="478.70" width="23.20" height="91.50" fill="none" stroke="#1010d8" stroke-width="3.6"/>
<path d="M596.00,456.6 H608.60 M602.30,456.6 V497.7 M596.00,497.7 H608.60" stroke="#000" stroke-width="2.4" fill="none"/>
<line x1="602.30" y1="571" x2="602.30" y2="576" stroke="#000" stroke-width="2.4"/>
<text transform="translate(600.80,592.30) scale(1.06,1) rotate(-45) translate(-14.59,3.99)" font-size="16.3" fill="#000">–Cp</text>
<rect x="637.00" y="504.50" width="24.00" height="65.70" fill="none" stroke="#000" stroke-width="3.6"/>
<path d="M642.70,491 H655.30 M649.00,491 V515.3 M642.70,515.3 H655.30" stroke="#000" stroke-width="2.4" fill="none"/>
<line x1="649.00" y1="571" x2="649.00" y2="576" stroke="#000" stroke-width="2.4"/>
<text transform="translate(645.30,591.70) scale(1.06,1) rotate(-45) translate(-12.55,5.79)" font-size="16.3" fill="#000">Ctrl</text>
<rect x="669.10" y="544.60" width="24.00" height="25.60" fill="none" stroke="#ea7422" stroke-width="3.6"/>
<path d="M674.80,531.6 H687.40 M681.10,531.6 V554.9 M674.80,554.9 H687.40" stroke="#000" stroke-width="2.4" fill="none"/>
<line x1="681.10" y1="571" x2="681.10" y2="576" stroke="#000" stroke-width="2.4"/>
<text transform="translate(679.80,591.70) scale(1.06,1) rotate(-45) translate(-15.24,3.99)" font-size="16.3" fill="#000">+Cp</text>
<text transform="translate(525.28,491.28) scale(1.06,1) translate(-10.14,13.39)" font-size="26" fill="#000">**</text>
<text transform="translate(680.99,508.96) scale(1.06,1) translate(-4.88,12.88)" font-size="25" fill="#000">*</text>
<text transform="translate(666.22,442.67) scale(1.06,1) translate(-32.41,3.63)" font-size="14.8" fill="#000">TrpV1 KO</text>
<text transform="translate(15.33,668.39) scale(1.06,1) translate(-6.16,5.83)" font-size="22" font-weight="bold" fill="#000">e</text>
<text transform="translate(77.95,669.99) scale(1.06,1) translate(-14.01,6.46)" font-size="18.2" fill="#000">Ctrl</text>
<text transform="translate(301.11,672.40) scale(1.06,1) translate(-17.02,4.46)" font-size="18.2" fill="#000">+Cp</text>
<line x1="33.8" y1="820.4" x2="48.2" y2="820.4" stroke="#000" stroke-width="4.2"/>
<polyline points="48.7,736.8 50.0,738.8 51.0,741.1 52.0,743.5 53.0,745.8 54.0,747.7 55.0,749.3 56.0,750.9 57.0,752.5 58.0,753.9 59.0,754.8 60.0,755.6 61.0,756.5 62.0,757.2 63.0,757.8 64.0,758.2 65.0,758.2 66.0,758.1 67.0,758.4 68.0,758.3 69.0,758.2 70.0,758.0 71.0,758.0 72.0,758.0 73.0,758.0 74.0,757.9 75.0,757.8 76.0,757.8 77.0,757.7 78.0,757.6 79.0,757.1 80.0,757.0 81.0,756.6 82.0,756.4 83.0,756.1 84.0,755.9 85.0,755.7 86.0,755.6 87.0,755.9 88.0,755.8 89.0,755.8 90.0,755.5 91.0,755.5 92.0,755.6 93.0,755.6 94.0,755.6 95.0,755.6 96.0,755.5 97.0,755.5 98.0,755.4 99.0,755.7 100.0,755.6 101.0,755.7 102.0,755.6 103.0,755.7 104.0,755.6 105.0,755.7 106.0,755.7 107.0,755.8 108.0,755.8 109.0,755.8 110.0,755.7 111.0,755.7" fill="none" stroke="#000" stroke-width="2.4" stroke-linejoin="round"/>
<polyline points="48.7,751.9 50.7,753.9 51.7,755.6 52.7,757.4 53.7,758.8 54.7,760.2 55.7,761.4 56.7,762.5 57.7,763.5 58.7,764.4 59.7,765.0 60.7,765.5 61.7,766.0 62.7,766.5 63.7,767.0 64.7,767.2 65.7,767.4 66.7,767.4 67.7,767.4 68.7,767.4 69.7,767.4 70.7,767.6 71.7,767.4 72.7,767.3 73.7,767.5 74.7,767.4 75.7,767.4 76.7,767.4 77.7,767.2 78.7,767.4 79.7,767.5 80.7,767.4 81.7,767.3 82.7,767.2 83.7,767.0 84.7,766.8 85.7,766.8 86.7,766.8 87.7,766.8 88.7,766.7 89.7,766.8 90.7,766.6 91.7,766.6 92.7,766.6 93.7,766.4 94.7,766.1 95.7,766.0 96.7,765.9 97.7,766.0 98.7,766.1 99.7,765.9 100.7,765.9 101.7,765.9 102.7,765.8 103.7,765.5 104.7,765.6 105.7,765.9 106.7,765.9 107.7,765.8 108.7,765.7 109.7,765.7 110.7,766.0" fill="none" stroke="#000" stroke-width="2.4" stroke-linejoin="round"/>
<polyline points="48.7,767.6 50.7,769.6 51.7,770.5 52.7,771.3 53.7,772.2 54.7,772.8 55.7,773.6 56.7,774.0 57.7,774.5 58.7,775.0 59.7,775.6 60.7,776.0 61.7,776.3 62.7,776.3 63.7,776.4 64.7,776.5 65.7,776.6 66.7,776.7 67.7,776.7 68.7,776.8 69.7,776.8 70.7,776.8 71.7,776.8 72.7,776.9 73.7,777.0 74.7,776.9 75.7,776.8 76.7,776.7 77.7,776.9 78.7,777.0 79.7,777.0 80.7,776.9 81.7,776.7 82.7,776.8 83.7,776.8 84.7,777.1 85.7,777.0 86.7,776.9 87.7,776.6 88.7,776.8 89.7,776.8 90.7,776.6 91.7,776.7 92.7,776.5 93.7,777.0 94.7,777.1 95.7,777.1 96.7,777.0 97.7,776.7 98.7,776.7 99.7,776.6 100.7,776.7 101.7,776.4 102.7,776.4 103.7,776.6 104.7,776.8 105.7,776.7 106.7,776.5 107.7,776.7 108.7,776.8 109.7,776.7 110.7,776.6" fill="none" stroke="#000" stroke-width="2.4" stroke-linejoin="round"/>
<polyline points="48.7,781.4 51.3,783.4 52.3,783.8 53.3,784.1 54.3,784.4 55.3,785.0 56.3,785.4 57.3,786.0 58.3,786.2 59.3,786.4 60.3,786.5 61.3,786.7 62.3,786.7 63.3,786.6 64.3,786.9 65.3,787.1 66.3,787.3 67.3,787.4 68.3,787.4 69.3,787.3 70.3,787.3 71.3,787.2 72.3,787.1 73.3,786.9 74.3,786.8 75.3,786.8 76.3,786.9 77.3,786.9 78.3,787.1 79.3,787.2 80.3,787.2 81.3,787.4 82.3,787.2 83.3,787.0 84.3,787.1 85.3,787.1 86.3,787.2 87.3,787.3 88.3,787.4 89.3,787.4 90.3,787.2 91.3,787.2 92.3,787.2 93.3,787.1 94.3,787.0 95.3,787.2 96.3,787.3 97.3,787.4 98.3,787.2 99.3,787.1 100.3,786.8 101.3,786.9 102.3,787.0 103.3,786.9 104.3,787.0 105.3,787.1 106.3,787.2 107.3,787.1 108.3,787.0 109.3,787.0 110.3,787.2" fill="none" stroke="#000" stroke-width="2.4" stroke-linejoin="round"/>
<polyline points="48.7,792.0 52.0,794.0 53.0,794.5 54.0,794.8 55.0,795.1 56.0,795.3 57.0,795.6 58.0,795.7 59.0,795.8 60.0,795.8 61.0,795.9 62.0,796.2 63.0,796.3 64.0,796.3 65.0,796.2 66.0,796.3 67.0,796.3 68.0,796.2 69.0,796.2 70.0,796.2 71.0,796.1 72.0,796.1 73.0,796.0 74.0,795.9 75.0,796.0 76.0,795.8 77.0,795.8 78.0,795.8 79.0,795.8 80.0,795.9 81.0,796.0 82.0,796.1 83.0,796.1 84.0,796.0 85.0,796.0 86.0,796.2 87.0,796.1 88.0,796.0 89.0,795.9 90.0,795.8 91.0,795.7 92.0,795.9 93.0,796.0 94.0,796.0 95.0,796.2 96.0,796.1 97.0,796.2 98.0,796.3 99.0,796.1 100.0,795.9 101.0,795.9 102.0,796.0 103.0,796.2 104.0,796.1 105.0,796.2 106.0,796.2 107.0,796.1 108.0,796.1 109.0,796.0 110.0,795.9 111.0,795.8" fill="none" stroke="#000" stroke-width="2.4" stroke-linejoin="round"/>
<polyline points="48.7,801.5 52.6,803.5 53.6,803.8 54.6,804.2 55.6,804.8 56.6,805.3 57.6,805.5 58.6,805.4 59.6,805.5 60.6,805.4 61.6,805.8 62.6,805.8 63.6,805.7 64.6,805.8 65.6,805.8 66.6,805.6 67.6,805.5 68.6,805.5 69.6,805.5 70.6,805.6 71.6,805.5 72.6,805.6 73.6,805.5 74.6,805.4 75.6,805.6 76.6,805.7 77.6,805.7 78.6,805.5 79.6,805.5 80.6,805.6 81.6,805.4 82.6,805.6 83.6,805.6 84.6,805.6 85.6,805.6 86.6,805.6 87.6,805.8 88.6,805.7 89.6,805.9 90.6,805.7 91.6,805.6 92.6,805.7 93.6,805.5 94.6,805.5 95.6,805.6 96.6,805.8 97.6,805.5 98.6,805.6 99.6,805.8 100.6,805.9 101.6,805.9 102.6,805.7 103.6,805.7 104.6,805.5 105.6,805.5 106.6,805.5 107.6,805.5 108.6,805.7 109.6,805.6 110.6,805.4" fill="none" stroke="#000" stroke-width="2.4" stroke-linejoin="round"/>
<polyline points="48.7,809.0 53.2,811.0 54.2,811.5 55.2,811.6 56.2,811.8 57.2,812.0 58.2,812.2 59.2,812.2 60.2,812.3 61.2,812.6 62.2,812.5 63.2,812.5 64.2,812.6 65.2,812.7 66.2,812.8 67.2,812.8 68.2,812.5 69.2,812.4 70.2,812.5 71.2,812.5 72.2,812.7 73.2,812.7 74.2,812.6 75.2,812.6 76.2,812.6 77.2,812.6 78.2,812.7 79.2,812.6 80.2,812.5 81.2,812.4 82.2,812.5 83.2,812.7 84.2,812.8 85.2,812.8 86.2,812.9 87.2,812.8 88.2,812.9 89.2,812.7 90.2,812.6 91.2,812.5 92.2,812.6 93.2,812.5 94.2,812.5 95.2,812.6 96.2,812.7 97.2,812.6 98.2,812.5 99.2,812.6 100.2,812.4 101.2,812.5 102.2,812.4 103.2,812.4 104.2,812.2 105.2,812.3 106.2,812.3 107.2,812.2 108.2,812.5 109.2,812.6 110.2,813.0" fill="none" stroke="#000" stroke-width="2.4" stroke-linejoin="round"/>
<polyline points="48.7,813.0 53.5,815.0 54.5,815.0 55.5,815.0 56.5,815.0 57.5,815.2 58.5,815.2 59.5,815.2 60.5,815.2 61.5,815.1 62.5,815.1 63.5,815.0 64.5,814.9 65.5,815.0 66.5,815.1 67.5,815.1 68.5,814.9 69.5,814.7 70.5,814.8 71.5,814.8 72.5,814.7 73.5,814.7 74.5,814.6 75.5,814.6 76.5,814.7 77.5,814.8 78.5,814.8 79.5,814.9 80.5,814.8 81.5,814.8 82.5,814.7 83.5,814.7 84.5,814.8 85.5,814.9 86.5,815.1 87.5,814.8 88.5,814.9 89.5,814.9 90.5,815.2 91.5,815.3 92.5,815.0 93.5,815.1 94.5,815.0 95.5,815.1 96.5,815.0 97.5,815.0 98.5,815.0 99.5,814.9 100.5,814.9 101.5,814.7 102.5,814.8 103.5,814.9 104.5,814.9 105.5,814.8 106.5,814.9 107.5,815.0 108.5,814.9 109.5,815.0 110.5,815.1" fill="none" stroke="#000" stroke-width="2.4" stroke-linejoin="round"/>
<polyline points="48.7,815.0 53.5,817.0 54.5,816.9 55.5,816.9 56.5,816.8 57.5,816.8 58.5,816.8 59.5,816.7 60.5,816.7 61.5,817.0 62.5,817.0 63.5,817.0 64.5,817.3 65.5,817.3 66.5,817.1 67.5,817.1 68.5,817.0 69.5,817.3 70.5,817.1 71.5,817.0 72.5,816.9 73.5,816.9 74.5,816.9 75.5,816.9 76.5,816.9 77.5,816.9 78.5,817.0 79.5,817.2 80.5,817.2 81.5,817.1 82.5,817.0 83.5,817.0 84.5,817.3 85.5,817.3 86.5,817.2 87.5,817.1 88.5,817.0 89.5,816.9 90.5,816.9 91.5,817.1 92.5,817.1 93.5,817.1 94.5,816.9 95.5,817.0 96.5,817.0 97.5,816.9 98.5,816.8 99.5,816.9 100.5,817.0 101.5,817.1 102.5,817.2 103.5,817.1 104.5,817.2 105.5,817.2 106.5,817.4 107.5,817.3 108.5,817.2 109.5,817.4 110.5,817.3" fill="none" stroke="#000" stroke-width="2.4" stroke-linejoin="round"/>
<polyline points="48.7,817.0 53.5,819.0 54.5,819.2 55.5,819.1 56.5,819.1 57.5,819.1 58.5,818.9 59.5,818.8 60.5,819.1 61.5,819.2 62.5,819.2 63.5,819.3 64.5,819.3 65.5,819.4 66.5,819.3 67.5,819.2 68.5,819.3 69.5,819.2 70.5,819.0 71.5,819.0 72.5,818.9 73.5,819.0 74.5,818.9 75.5,818.8 76.5,818.8 77.5,819.0 78.5,819.0 79.5,819.0 80.5,819.0 81.5,819.1 82.5,819.2 83.5,819.3 84.5,819.1 85.5,819.2 86.5,819.2 87.5,819.1 88.5,819.4 89.5,819.3 90.5,819.5 91.5,819.5 92.5,819.3 93.5,819.3 94.5,819.4 95.5,819.3 96.5,819.0 97.5,818.9 98.5,818.9 99.5,818.8 100.5,819.1 101.5,819.0 102.5,819.0 103.5,818.9 104.5,818.9 105.5,818.8 106.5,818.8 107.5,818.9 108.5,818.8 109.5,818.9 110.5,818.7" fill="none" stroke="#000" stroke-width="2.4" stroke-linejoin="round"/>
<path d="M45.900000000000006,821.4 L46.2,687.7 Q47.400000000000006,685.7 48.6,687.7 L50.2,737.2 C50.400000000000006,780.4 50.800000000000004,808.4 56.2,816.4 L56.2,821.9 Z" fill="#000"/>
<line x1="49.2" y1="820.4" x2="111" y2="820.4" stroke="#000" stroke-width="2.8"/>
<line x1="49.2" y1="816" x2="111" y2="816" stroke="#000" stroke-width="1.5"/>
<line x1="49.2" y1="818" x2="111" y2="818" stroke="#000" stroke-width="1.5"/>
<path d="M109.5,755.0 L112.5,755.0 L116.7,802.5 L116.7,805.5 L112.5,825.1 L109.5,825.1 Z" fill="#000"/>
<line x1="111" y1="803.5" x2="176.2" y2="803.5" stroke="#000" stroke-width="4.6"/>
<polyline points="175.2,803.5 175.2,875.3 176.7,852.0 178.0,836.0 179.7,827.0 181.7,823.0 185.2,821.0 190.2,820.0 201.2,820.0" fill="none" stroke="#000" stroke-width="2.6" stroke-linejoin="round"/>
<path d="M173.79999999999998,850.3 L176.6,850.3 L176.0,875.3 L174.39999999999998,875.3 Z" fill="#000"/>
<line x1="187.2" y1="820" x2="201.2" y2="820" stroke="#000" stroke-width="3.6" stroke-linecap="round"/>
<line x1="260.5" y1="820.4" x2="275.6" y2="820.4" stroke="#000" stroke-width="4.2"/>
<polyline points="276.1,740.0 276.8,742.0 277.8,743.7 278.8,745.5 279.8,747.2 280.8,748.7 281.8,750.2 282.8,751.6 283.8,752.7 284.8,754.1 285.8,754.9 286.8,755.6 287.8,756.2 288.8,756.8 289.8,757.4 290.8,758.0 291.8,758.4 292.8,758.8 293.8,759.0 294.8,759.0 295.8,759.1 296.8,759.0 297.8,758.8 298.8,758.8 299.8,758.6 300.8,758.4 301.8,758.5 302.8,758.4 303.8,758.1 304.8,757.8 305.8,757.9 306.8,757.6 307.8,757.4 308.8,757.2 309.8,757.0 310.8,756.8 311.8,756.5 312.8,756.2 313.8,756.0 314.8,755.7 315.8,755.6 316.8,755.6 317.8,755.3 318.8,755.2 319.8,754.9 320.8,754.7 321.8,754.6 322.8,754.6 323.8,754.5 324.8,754.2 325.8,754.4 326.8,754.4 327.8,754.3 328.8,754.4 329.8,754.4 330.8,754.2 331.8,754.3 332.8,754.4 333.8,754.3 334.8,754.5 335.8,754.5 336.8,754.4 337.8,754.6" fill="none" stroke="#000" stroke-width="2.4" stroke-linejoin="round"/>
<polyline points="276.1,754.4 277.5,756.4 278.5,757.5 279.5,758.4 280.5,759.5 281.5,760.4 282.5,761.3 283.5,761.9 284.5,762.6 285.5,763.3 286.5,763.9 287.5,764.3 288.5,764.8 289.5,765.1 290.5,765.3 291.5,765.2 292.5,765.4 293.5,765.4 294.5,765.4 295.5,765.4 296.5,765.4 297.5,765.0 298.5,765.1 299.5,764.8 300.5,764.8 301.5,765.0 302.5,765.2 303.5,765.2 304.5,765.2 305.5,765.2 306.5,764.9 307.5,765.0 308.5,765.0 309.5,765.0 310.5,764.9 311.5,764.9 312.5,764.9 313.5,765.1 314.5,765.1 315.5,765.5 316.5,765.4 317.5,765.3 318.5,765.3 319.5,765.1 320.5,765.3 321.5,765.4 322.5,765.1 323.5,765.1 324.5,765.3 325.5,765.1 326.5,765.1 327.5,765.0 328.5,765.3 329.5,765.3 330.5,765.2 331.5,765.1 332.5,765.4 333.5,765.3 334.5,765.5 335.5,765.2 336.5,765.2 337.5,765.1" fill="none" stroke="#000" stroke-width="2.4" stroke-linejoin="round"/>
<polyline points="276.1,766.3 277.5,768.3 278.5,768.9 279.5,769.5 280.5,770.1 281.5,770.6 282.5,770.9 283.5,771.6 284.5,772.2 285.5,772.4 286.5,772.8 287.5,772.8 288.5,773.2 289.5,773.3 290.5,773.5 291.5,774.0 292.5,773.9 293.5,774.1 294.5,774.0 295.5,773.8 296.5,773.7 297.5,773.9 298.5,773.8 299.5,773.8 300.5,773.9 301.5,773.9 302.5,773.8 303.5,774.1 304.5,774.1 305.5,774.3 306.5,774.2 307.5,774.4 308.5,774.2 309.5,774.0 310.5,774.0 311.5,774.0 312.5,774.0 313.5,774.0 314.5,774.1 315.5,774.3 316.5,774.2 317.5,774.0 318.5,774.0 319.5,774.2 320.5,774.3 321.5,774.2 322.5,774.1 323.5,774.1 324.5,774.3 325.5,774.2 326.5,774.3 327.5,774.3 328.5,774.4 329.5,774.3 330.5,774.4 331.5,774.4 332.5,774.2 333.5,774.3 334.5,774.2 335.5,774.4 336.5,774.4 337.5,774.3" fill="none" stroke="#000" stroke-width="2.4" stroke-linejoin="round"/>
<polyline points="276.1,778.2 278.0,780.2 279.0,780.8 280.0,781.2 281.0,781.6 282.0,782.0 283.0,782.6 284.0,782.9 285.0,783.2 286.0,783.4 287.0,783.8 288.0,784.0 289.0,784.3 290.0,784.4 291.0,784.8 292.0,784.6 293.0,784.6 294.0,784.6 295.0,784.7 296.0,784.5 297.0,784.3 298.0,784.3 299.0,784.5 300.0,784.6 301.0,784.4 302.0,784.4 303.0,784.6 304.0,784.5 305.0,784.4 306.0,784.3 307.0,784.2 308.0,784.4 309.0,784.3 310.0,784.3 311.0,784.2 312.0,784.2 313.0,784.2 314.0,784.1 315.0,784.1 316.0,784.1 317.0,784.2 318.0,784.3 319.0,784.5 320.0,784.4 321.0,784.5 322.0,784.5 323.0,784.4 324.0,784.5 325.0,784.5 326.0,784.3 327.0,784.4 328.0,784.5 329.0,784.4 330.0,784.6 331.0,784.7 332.0,784.7 333.0,784.5 334.0,784.5 335.0,784.4 336.0,784.3 337.0,784.3 338.0,784.2" fill="none" stroke="#000" stroke-width="2.4" stroke-linejoin="round"/>
<polyline points="276.1,789.5 278.7,791.5 279.7,792.0 280.7,792.3 281.7,792.7 282.7,793.1 283.7,793.2 284.7,793.5 285.7,793.8 286.7,794.0 287.7,794.1 288.7,794.3 289.7,794.4 290.7,794.5 291.7,794.2 292.7,794.1 293.7,794.2 294.7,794.2 295.7,794.2 296.7,794.3 297.7,794.1 298.7,794.2 299.7,794.4 300.7,794.4 301.7,794.4 302.7,794.4 303.7,794.3 304.7,794.4 305.7,794.5 306.7,794.4 307.7,794.4 308.7,794.4 309.7,794.4 310.7,794.5 311.7,794.3 312.7,794.4 313.7,794.4 314.7,794.2 315.7,794.2 316.7,794.0 317.7,793.9 318.7,794.0 319.7,793.9 320.7,793.8 321.7,793.7 322.7,793.7 323.7,793.6 324.7,793.6 325.7,793.7 326.7,793.7 327.7,793.7 328.7,793.9 329.7,793.8 330.7,794.0 331.7,793.8 332.7,794.0 333.7,794.0 334.7,793.9 335.7,793.9 336.7,793.8 337.7,793.7" fill="none" stroke="#000" stroke-width="2.4" stroke-linejoin="round"/>
<polyline points="276.1,799.6 279.3,801.6 280.3,801.9 281.3,802.0 282.3,802.2 283.3,802.4 284.3,802.6 285.3,802.7 286.3,802.9 287.3,802.9 288.3,803.0 289.3,803.1 290.3,802.9 291.3,802.6 292.3,802.9 293.3,802.8 294.3,802.8 295.3,802.8 296.3,802.9 297.3,803.1 298.3,803.0 299.3,803.0 300.3,803.0 301.3,802.8 302.3,802.7 303.3,802.7 304.3,802.7 305.3,802.8 306.3,802.5 307.3,802.4 308.3,802.7 309.3,802.7 310.3,802.8 311.3,802.7 312.3,802.7 313.3,803.0 314.3,802.8 315.3,802.7 316.3,802.8 317.3,802.8 318.3,802.6 319.3,802.7 320.3,802.8 321.3,802.6 322.3,802.6 323.3,802.7 324.3,802.9 325.3,802.6 326.3,802.6 327.3,802.6 328.3,802.6 329.3,802.5 330.3,802.5 331.3,802.6 332.3,802.5 333.3,802.7 334.3,802.8 335.3,802.9 336.3,803.1 337.3,803.0 338.3,802.9" fill="none" stroke="#000" stroke-width="2.4" stroke-linejoin="round"/>
<polyline points="276.1,805.9 279.5,807.9 280.5,808.3 281.5,808.6 282.5,808.9 283.5,809.0 284.5,809.0 285.5,808.9 286.5,808.9 287.5,808.8 288.5,808.8 289.5,808.8 290.5,808.9 291.5,809.0 292.5,809.0 293.5,808.9 294.5,808.9 295.5,809.0 296.5,809.1 297.5,809.1 298.5,809.2 299.5,809.1 300.5,809.2 301.5,809.2 302.5,809.2 303.5,809.0 304.5,809.2 305.5,809.0 306.5,809.1 307.5,809.1 308.5,809.0 309.5,809.0 310.5,809.0 311.5,809.0 312.5,809.2 313.5,809.3 314.5,809.3 315.5,809.3 316.5,809.4 317.5,809.3 318.5,809.4 319.5,809.4 320.5,809.4 321.5,809.2 322.5,809.1 323.5,808.9 324.5,808.9 325.5,809.0 326.5,809.0 327.5,809.1 328.5,809.0 329.5,808.9 330.5,809.0 331.5,808.9 332.5,808.7 333.5,808.8 334.5,809.0 335.5,808.9 336.5,808.8 337.5,808.8" fill="none" stroke="#000" stroke-width="2.4" stroke-linejoin="round"/>
<polyline points="276.1,809.0 279.5,811.0 280.5,811.0 281.5,811.1 282.5,811.1 283.5,811.2 284.5,811.3 285.5,811.5 286.5,811.4 287.5,811.2 288.5,811.4 289.5,811.5 290.5,811.4 291.5,811.5 292.5,811.4 293.5,811.4 294.5,811.5 295.5,811.5 296.5,811.5 297.5,811.5 298.5,811.6 299.5,811.5 300.5,811.6 301.5,811.7 302.5,811.9 303.5,811.7 304.5,811.8 305.5,811.5 306.5,811.3 307.5,811.4 308.5,811.5 309.5,811.7 310.5,811.4 311.5,811.6 312.5,811.5 313.5,811.5 314.5,811.5 315.5,811.7 316.5,811.6 317.5,811.3 318.5,811.3 319.5,811.3 320.5,811.5 321.5,811.5 322.5,811.5 323.5,811.4 324.5,811.4 325.5,811.5 326.5,811.3 327.5,811.3 328.5,811.2 329.5,811.4 330.5,811.4 331.5,811.4 332.5,811.5 333.5,811.7 334.5,811.8 335.5,811.6 336.5,811.6 337.5,811.7" fill="none" stroke="#000" stroke-width="2.4" stroke-linejoin="round"/>
<polyline points="276.1,811.5 279.5,813.5 280.5,813.3 281.5,813.2 282.5,813.2 283.5,813.3 284.5,813.2 285.5,813.3 286.5,813.3 287.5,813.4 288.5,813.3 289.5,813.0 290.5,812.8 291.5,813.0 292.5,813.2 293.5,813.3 294.5,813.1 295.5,813.0 296.5,813.0 297.5,813.0 298.5,812.8 299.5,812.9 300.5,812.9 301.5,813.0 302.5,813.1 303.5,813.2 304.5,813.2 305.5,813.4 306.5,813.4 307.5,813.3 308.5,813.3 309.5,813.5 310.5,813.5 311.5,813.6 312.5,813.8 313.5,813.9 314.5,813.6 315.5,813.6 316.5,813.7 317.5,813.6 318.5,813.5 319.5,813.4 320.5,813.3 321.5,813.3 322.5,813.1 323.5,813.2 324.5,813.1 325.5,813.2 326.5,813.1 327.5,813.2 328.5,813.3 329.5,813.2 330.5,813.2 331.5,813.3 332.5,813.4 333.5,813.4 334.5,813.4 335.5,813.3 336.5,813.3 337.5,813.0" fill="none" stroke="#000" stroke-width="2.4" stroke-linejoin="round"/>
<polyline points="276.1,814.0 279.5,816.0 280.5,815.9 281.5,816.0 282.5,816.0 283.5,816.0 284.5,816.0 285.5,816.0 286.5,816.0 287.5,815.9 288.5,816.1 289.5,816.0 290.5,815.9 291.5,815.9 292.5,816.0 293.5,816.0 294.5,816.0 295.5,816.1 296.5,816.2 297.5,816.2 298.5,816.0 299.5,816.2 300.5,816.2 301.5,815.9 302.5,816.0 303.5,816.0 304.5,816.0 305.5,816.3 306.5,816.2 307.5,816.1 308.5,815.9 309.5,816.0 310.5,816.1 311.5,816.1 312.5,816.1 313.5,815.8 314.5,815.9 315.5,816.0 316.5,816.0 317.5,815.9 318.5,815.8 319.5,815.9 320.5,815.7 321.5,816.0 322.5,816.0 323.5,815.9 324.5,815.8 325.5,815.9 326.5,816.0 327.5,815.9 328.5,816.0 329.5,816.0 330.5,816.1 331.5,816.2 332.5,816.3 333.5,816.1 334.5,816.4 335.5,816.3 336.5,816.1 337.5,816.0" fill="none" stroke="#000" stroke-width="2.4" stroke-linejoin="round"/>
<path d="M273.3,821.4 L273.6,695.0 Q274.8,693.0 276.0,695.0 L277.6,744.5 C277.8,780.4 278.20000000000005,808.4 283.6,816.4 L283.6,821.9 Z" fill="#000"/>
<line x1="276.6" y1="820.4" x2="338.3" y2="820.4" stroke="#000" stroke-width="2.8"/>
<line x1="276.6" y1="818.5" x2="338.3" y2="818.5" stroke="#000" stroke-width="1.5"/>
<path d="M336.8,755.5 L339.8,755.5 L342.5,800.7 L342.5,803.7 L339.8,821.7 L336.8,821.7 Z" fill="#000"/>
<line x1="338.3" y1="801.7" x2="402.9" y2="801.7" stroke="#000" stroke-width="4.6"/>
<polyline points="401.9,801.7 401.9,870.0 403.4,848.0 404.9,835.0 406.9,826.7 409.9,823.0 413.9,821.5 419.9,820.3 427.5,820.3" fill="none" stroke="#000" stroke-width="2.6" stroke-linejoin="round"/>
<path d="M400.5,845 L403.29999999999995,845 L402.7,870 L401.09999999999997,870 Z" fill="#000"/>
<line x1="413.9" y1="820.3" x2="427.5" y2="820.3" stroke="#000" stroke-width="3.6" stroke-linecap="round"/>
<line x1="153.2" y1="753.2" x2="161" y2="753.2" stroke="#000" stroke-width="2.2"/>
<line x1="161" y1="714.30" x2="200.8" y2="714.30" stroke="#000" stroke-width="1.7"/>
<line x1="161" y1="717.84" x2="200.8" y2="717.84" stroke="#000" stroke-width="1.7"/>
<line x1="161" y1="721.37" x2="200.8" y2="721.37" stroke="#000" stroke-width="1.7"/>
<line x1="161" y1="724.91" x2="200.8" y2="724.91" stroke="#000" stroke-width="1.7"/>
<line x1="161" y1="728.45" x2="200.8" y2="728.45" stroke="#000" stroke-width="1.7"/>
<line x1="161" y1="731.98" x2="200.8" y2="731.98" stroke="#000" stroke-width="1.7"/>
<line x1="161" y1="735.52" x2="200.8" y2="735.52" stroke="#000" stroke-width="1.7"/>
<line x1="161" y1="739.05" x2="200.8" y2="739.05" stroke="#000" stroke-width="1.7"/>
<line x1="161" y1="742.59" x2="200.8" y2="742.59" stroke="#000" stroke-width="1.7"/>
<line x1="161" y1="746.13" x2="200.8" y2="746.13" stroke="#000" stroke-width="1.7"/>
<line x1="161" y1="749.66" x2="200.8" y2="749.66" stroke="#000" stroke-width="1.7"/>
<line x1="161" y1="753.20" x2="200.8" y2="753.20" stroke="#000" stroke-width="1.7"/>
<polyline points="161,753.2 161,714.3 200.8,714.3 200.8,734.3 241,734.3 241,753.2 248.5,753.2" fill="none" stroke="#000" stroke-width="2.2"/>
<text transform="translate(158.00,703.44) scale(1.06,1) translate(-21.76,5.07)" font-size="14.7" fill="#000">10 mV</text>
<text transform="translate(234.06,724.17) scale(1.06,1) translate(-24.78,5.24)" font-size="15.2" fill="#000">-40 mV</text>
<text transform="translate(158.50,765.49) scale(1.06,1) translate(-24.12,5.11)" font-size="14.8" fill="#000">-90 mV</text>
<polyline points="329.3,729.3 380,729.3 380,696.7" fill="none" stroke="#000" stroke-width="2.2"/>
<text transform="translate(416.61,720.10) scale(1.06,1) translate(-22.19,5.24)" font-size="15.2" fill="#000">0.5 nA</text>
<text transform="translate(375.89,745.49) scale(1.06,1) translate(-25.73,5.35)" font-size="15.5" fill="#000">100 ms</text>
<text transform="translate(483.39,666.00) scale(1.06,1) translate(-3.96,7.92)" font-size="22" font-weight="bold" fill="#000">f</text>
<polyline points="628.4,685.6 623.9,685.6 623.9,869.9 628.4,869.9" fill="none" stroke="#000" stroke-width="2.4"/>
<line x1="628.4" y1="777.90" x2="623.9" y2="777.90" stroke="#000" stroke-width="2.4"/>
<line x1="492.5" y1="823.9" x2="690" y2="823.9" stroke="#000" stroke-width="2.4"/>
<line x1="492.90" y1="823.9" x2="492.90" y2="828.3" stroke="#000" stroke-width="2.2"/>
<line x1="519.10" y1="823.9" x2="519.10" y2="828.3" stroke="#000" stroke-width="2.2"/>
<line x1="545.30" y1="823.9" x2="545.30" y2="828.3" stroke="#000" stroke-width="2.2"/>
<line x1="571.50" y1="823.9" x2="571.50" y2="828.3" stroke="#000" stroke-width="2.2"/>
<line x1="597.70" y1="823.9" x2="597.70" y2="828.3" stroke="#000" stroke-width="2.2"/>
<line x1="623.90" y1="823.9" x2="623.90" y2="828.3" stroke="#000" stroke-width="2.2"/>
<line x1="650.10" y1="823.9" x2="650.10" y2="828.3" stroke="#000" stroke-width="2.2"/>
<line x1="676.30" y1="823.9" x2="676.30" y2="828.3" stroke="#000" stroke-width="2.2"/>
<text transform="translate(626.28,667.68) scale(1.06,1) translate(-10.51,5.62)" font-size="16.3" fill="#000">nA</text>
<text transform="translate(645.33,685.57) scale(1.06,1) translate(-13.14,6.29)" font-size="18.5" fill="#000">1.5</text>
<text transform="translate(644.83,778.01) scale(1.06,1) translate(-12.77,6.38)" font-size="18.5" fill="#000">0.5</text>
<text transform="translate(647.17,868.40) scale(1.06,1) translate(-15.91,6.38)" font-size="18.5" fill="#000">-0.5</text>
<text transform="translate(706.12,814.12) scale(1.06,1) translate(-12.48,5.52)" font-size="16" fill="#000">mV</text>
<text transform="translate(478.88,840.50) scale(1.06,1) translate(-18.39,6.31)" font-size="18.3" fill="#000">-100</text>
<text transform="translate(546.44,840.50) scale(1.06,1) translate(-13.27,6.31)" font-size="18.3" fill="#000">-60</text>
<text transform="translate(596.22,840.50) scale(1.06,1) translate(-13.27,6.31)" font-size="18.3" fill="#000">-20</text>
<text transform="translate(652.68,840.50) scale(1.06,1) translate(-10.34,6.31)" font-size="18.3" fill="#000">20</text>
<polyline points="506.0,836.8 519.1,830.0 532.2,825.8 545.3,822.0 558.4,817.5 571.5,808.8 584.6,793.3 597.7,777.0 610.8,758.9 623.9,735.6 637.0,711.8" fill="none" stroke="#000" stroke-width="2.6"/>
<ellipse cx="506.00" cy="836.8" rx="3.6" ry="3.3" fill="#000"/>
<ellipse cx="519.10" cy="830" rx="3.6" ry="3.3" fill="#000"/>
<ellipse cx="532.20" cy="825.8" rx="3.6" ry="3.3" fill="#000"/>
<ellipse cx="545.30" cy="822" rx="3.6" ry="3.3" fill="#000"/>
<ellipse cx="558.40" cy="817.5" rx="3.6" ry="3.3" fill="#000"/>
<ellipse cx="571.50" cy="808.8" rx="3.6" ry="3.3" fill="#000"/>
<ellipse cx="584.60" cy="793.3" rx="3.6" ry="3.3" fill="#000"/>
<ellipse cx="597.70" cy="777" rx="3.6" ry="3.3" fill="#000"/>
<ellipse cx="610.80" cy="758.9" rx="3.6" ry="3.3" fill="#000"/>
<ellipse cx="623.90" cy="735.6" rx="3.6" ry="3.3" fill="#000"/>
<ellipse cx="637.00" cy="711.8" rx="3.6" ry="3.3" fill="#000"/>
<path d="M634.50,702.5 H639.50 M637.00,702.5 V712 M621.40,733.2 H626.40 M623.90,733.2 V736" stroke="#000" stroke-width="2" fill="none"/>
<polyline points="506.0,834.0 519.1,828.5 532.2,825.7 545.3,822.0 558.4,817.5 571.5,809.5 584.6,796.3 597.7,780.8 610.8,764.7 623.9,745.3 637.0,723.5" fill="none" stroke="#e8141c" stroke-width="2.6"/>
<ellipse cx="506.00" cy="834" rx="3.6" ry="3.3" fill="#e8141c"/>
<ellipse cx="519.10" cy="828.5" rx="3.6" ry="3.3" fill="#e8141c"/>
<ellipse cx="532.20" cy="825.7" rx="3.6" ry="3.3" fill="#e8141c"/>
<ellipse cx="545.30" cy="822" rx="3.6" ry="3.3" fill="#e8141c"/>
<ellipse cx="558.40" cy="817.5" rx="3.6" ry="3.3" fill="#e8141c"/>
<ellipse cx="571.50" cy="809.5" rx="3.6" ry="3.3" fill="#e8141c"/>
<ellipse cx="584.60" cy="796.3" rx="3.6" ry="3.3" fill="#e8141c"/>
<ellipse cx="597.70" cy="780.8" rx="3.6" ry="3.3" fill="#e8141c"/>
<ellipse cx="610.80" cy="764.7" rx="3.6" ry="3.3" fill="#e8141c"/>
<ellipse cx="623.90" cy="745.3" rx="3.6" ry="3.3" fill="#e8141c"/>
<ellipse cx="637.00" cy="723.5" rx="3.6" ry="3.3" fill="#e8141c"/>
<path d="M634.50,715 H639.50 M637.00,715 V731.7 M634.50,731.7 H639.50 M621.40,739.4 H626.40 M623.90,739.4 V751.1 M621.40,751.1 H626.40" stroke="#e8141c" stroke-width="2" fill="none"/>
<ellipse cx="487.1" cy="718" rx="4.8" ry="4.4" fill="#000"/>
<ellipse cx="487.1" cy="737.9" rx="4.8" ry="4.4" fill="#e8141c"/>
<text transform="translate(512.00,717.68) scale(1.06,1) translate(-12.94,5.96)" font-size="16.8" fill="#000">Ctrl</text>
<text transform="translate(514.39,740.35) scale(1.06,1) translate(-15.71,4.12)" font-size="16.8" fill="#000">+Cp</text>
</svg>
</body></html>
